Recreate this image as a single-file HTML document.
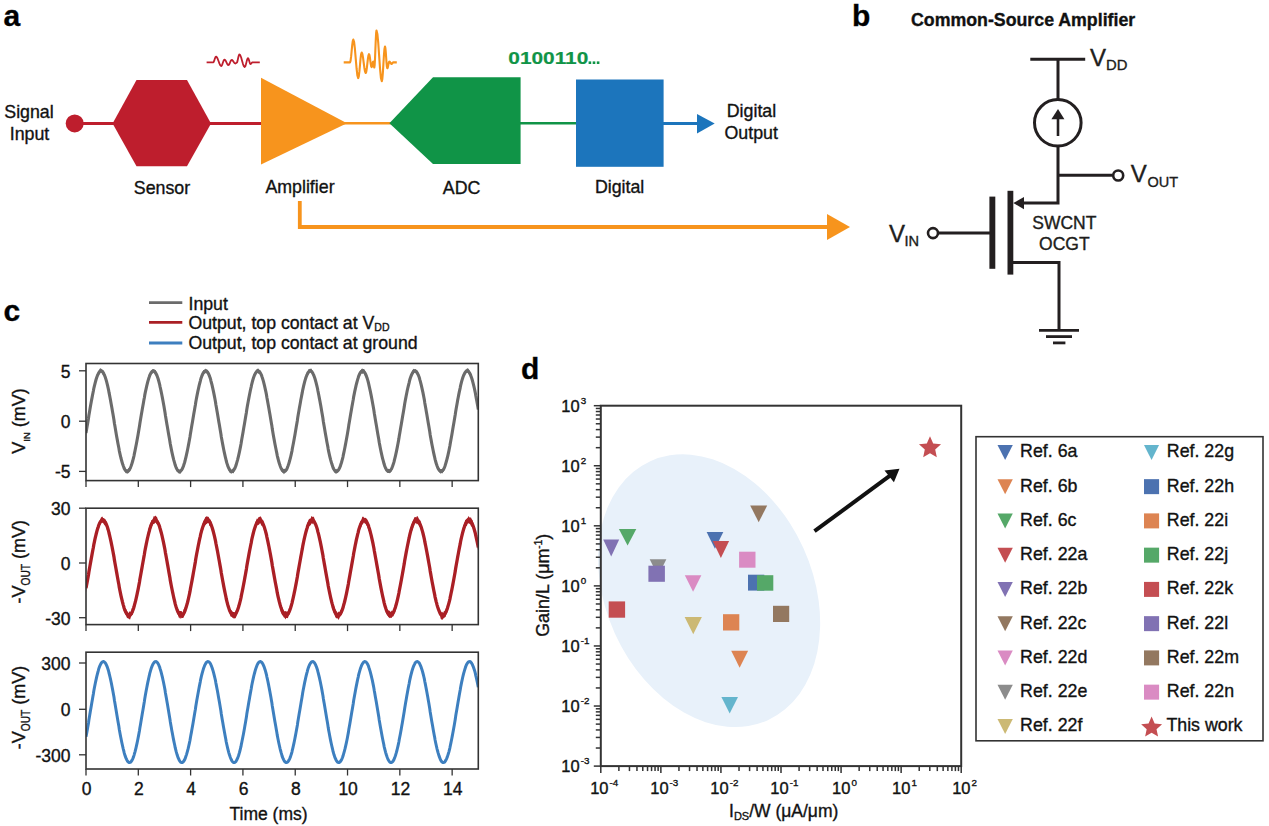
<!DOCTYPE html>
<html><head><meta charset="utf-8"><style>
html,body{margin:0;padding:0;background:#fff;}
svg{display:block;font-family:"Liberation Sans", sans-serif;}
text{stroke:#151515;stroke-width:0.35px;}
text.nostroke{stroke:none;}
</style></head><body>
<svg width="1269" height="826" viewBox="0 0 1269 826">
<rect width="1269" height="826" fill="#fff"/>
<text x="3.50" y="26.00" font-size="30" text-anchor="start" font-weight="bold" fill="#000" >a</text>
<text x="852.00" y="26.00" font-size="30" text-anchor="start" font-weight="bold" fill="#000" >b</text>
<text x="3.50" y="320.80" font-size="30" text-anchor="start" font-weight="bold" fill="#000" >c</text>
<text x="521.00" y="378.60" font-size="30" text-anchor="start" font-weight="bold" fill="#000" >d</text>
<text x="29.00" y="118.10" font-size="17.8" text-anchor="middle" font-weight="normal" fill="#111" >Signal</text>
<text x="29.50" y="139.60" font-size="17.8" text-anchor="middle" font-weight="normal" fill="#111" >Input</text>
<line x1="80" y1="123.4" x2="120" y2="123.4" stroke="#be1e2d" stroke-width="3"/>
<circle cx="74.7" cy="123.4" r="9" fill="#be1e2d"/>
<polygon points="112.60,123.50 136.50,80.00 187.00,80.00 211.00,123.50 187.00,166.30 136.50,166.30" fill="#be1e2d"/>
<line x1="205" y1="123.4" x2="265" y2="123.4" stroke="#be1e2d" stroke-width="3"/>
<polygon points="261.00,77.80 261.00,164.50 347.00,123.30" fill="#f7941d"/>
<line x1="340" y1="123.3" x2="395" y2="123.3" stroke="#f7941d" stroke-width="2.6"/>
<polygon points="389.40,123.30 433.00,77.20 520.60,77.20 520.60,164.00 433.00,164.00" fill="#109447"/>
<line x1="515" y1="123.3" x2="580" y2="123.3" stroke="#109447" stroke-width="2.6"/>
<rect x="576" y="79.5" width="87.6" height="87.3" fill="#1c75bc"/>
<line x1="660" y1="123.5" x2="700" y2="123.5" stroke="#1c75bc" stroke-width="3"/>
<polygon points="697.00,113.90 714.70,123.50 697.00,133.40" fill="#1c75bc"/>
<text x="162.00" y="193.60" font-size="17.8" text-anchor="middle" font-weight="normal" fill="#111" >Sensor</text>
<text x="300.00" y="193.00" font-size="17.8" text-anchor="middle" font-weight="normal" fill="#111" >Amplifier</text>
<text x="461.60" y="193.70" font-size="17.8" text-anchor="middle" font-weight="normal" fill="#111" >ADC</text>
<text x="619.60" y="192.90" font-size="17.8" text-anchor="middle" font-weight="normal" fill="#111" >Digital</text>
<text x="751.50" y="117.30" font-size="17.8" text-anchor="middle" font-weight="normal" fill="#111" >Digital</text>
<text x="751.20" y="139.00" font-size="17.8" text-anchor="middle" font-weight="normal" fill="#111" >Output</text>
<text x="508.3" y="63.6" font-size="17.2" font-weight="bold" fill="#109447" style="stroke:#109447;stroke-width:0.2px" textLength="80" lengthAdjust="spacingAndGlyphs">0100110</text>
<rect x="588.60" y="61.4" width="2.6" height="2.6" fill="#109447"/>
<rect x="592.70" y="61.4" width="2.6" height="2.6" fill="#109447"/>
<rect x="596.80" y="61.4" width="2.6" height="2.6" fill="#109447"/>
<polyline points="299.80,200.90 299.80,227.00 830.00,227.00" fill="none" stroke="#f7941d" stroke-width="3.8"/>
<polygon points="827.00,213.90 850.00,226.90 827.00,240.00" fill="#f7941d"/>
<path d="M206.60,62.40 L207.70,62.40 L208.80,62.40 L209.90,62.40 L211.00,62.40 L212.10,62.40 L213.20,62.40 L213.67,62.01 L214.13,60.95 L214.60,59.50 L215.07,58.05 L215.53,56.99 L216.00,56.60 L216.87,57.23 L217.73,58.95 L218.60,61.30 L219.47,63.65 L220.33,65.37 L221.20,66.00 L221.75,65.57 L222.30,64.40 L222.85,62.80 L223.40,61.20 L223.95,60.03 L224.50,59.60 L225.15,59.97 L225.80,60.98 L226.45,62.35 L227.10,63.72 L227.75,64.73 L228.40,65.10 L228.95,64.75 L229.50,63.80 L230.05,62.50 L230.60,61.20 L231.15,60.25 L231.70,59.90 L232.30,60.14 L232.90,60.80 L233.50,61.70 L234.10,62.60 L234.70,63.26 L235.30,63.50 L235.53,63.45 L235.77,63.30 L236.00,63.10 L236.23,62.90 L236.47,62.75 L236.70,62.70 L237.15,62.14 L237.60,60.62 L238.05,58.55 L238.50,56.48 L238.95,54.96 L239.40,54.40 L240.28,55.24 L241.17,57.55 L242.05,60.70 L242.93,63.85 L243.82,66.16 L244.70,67.00 L245.25,66.41 L245.80,64.80 L246.35,62.60 L246.90,60.40 L247.45,58.79 L248.00,58.20 L248.42,58.59 L248.83,59.65 L249.25,61.10 L249.67,62.55 L250.08,63.61 L250.50,64.00 L250.82,63.89 L251.13,63.60 L251.45,63.20 L251.77,62.80 L252.08,62.51 L252.40,62.40 L253.63,62.40 L254.87,62.40 L256.10,62.40 L257.33,62.40 L258.57,62.40 L259.80,62.40" fill="none" stroke="#be1e2d" stroke-width="1.8" stroke-linejoin="round"/>
<path d="M343.70,62.40 L344.75,62.40 L345.80,62.40 L346.85,62.40 L347.90,62.40 L348.95,62.40 L350.00,62.40 L350.55,60.87 L351.10,56.70 L351.65,51.00 L352.20,45.30 L352.75,41.13 L353.30,39.60 L354.12,42.18 L354.93,49.22 L355.75,58.85 L356.57,68.47 L357.38,75.52 L358.20,78.10 L358.78,76.39 L359.37,71.70 L359.95,65.30 L360.53,58.90 L361.12,54.21 L361.70,52.50 L362.37,53.87 L363.03,57.62 L363.70,62.75 L364.37,67.88 L365.03,71.63 L365.70,73.00 L366.25,71.73 L366.80,68.28 L367.35,63.55 L367.90,58.83 L368.45,55.37 L369.00,54.10 L369.43,54.97 L369.87,57.35 L370.30,60.60 L370.73,63.85 L371.17,66.23 L371.60,67.10 L371.87,66.73 L372.13,65.72 L372.40,64.35 L372.67,62.98 L372.93,61.97 L373.20,61.60 L373.38,62.00 L373.57,63.08 L373.75,64.55 L373.93,66.03 L374.12,67.10 L374.30,67.50 L374.67,65.02 L375.03,58.25 L375.40,49.00 L375.77,39.75 L376.13,32.98 L376.50,30.50 L377.38,33.90 L378.27,43.20 L379.15,55.90 L380.03,68.60 L380.92,77.90 L381.80,81.30 L382.33,78.98 L382.87,72.62 L383.40,63.95 L383.93,55.28 L384.47,48.92 L385.00,46.60 L385.38,48.05 L385.77,52.02 L386.15,57.45 L386.53,62.88 L386.92,66.85 L387.30,68.30 L387.63,67.85 L387.97,66.62 L388.30,64.95 L388.63,63.27 L388.97,62.05 L389.30,61.60 L389.68,61.76 L390.07,62.20 L390.45,62.80 L390.83,63.40 L391.22,63.84 L391.60,64.00 L391.87,63.89 L392.13,63.60 L392.40,63.20 L392.67,62.80 L392.93,62.51 L393.20,62.40 L393.80,62.40 L394.40,62.40 L395.00,62.40 L395.60,62.40 L396.20,62.40 L396.80,62.40" fill="none" stroke="#f7941d" stroke-width="2.1" stroke-linejoin="round"/>
<text x="911.00" y="26.00" font-size="17.75" text-anchor="start" font-weight="bold" fill="#111" >Common-Source Amplifier</text>
<line x1="1030.3" y1="59.3" x2="1085.2" y2="59.3" stroke="#231f20" stroke-width="3" fill="none"/>
<line x1="1058" y1="59.3" x2="1058" y2="99.5" stroke="#231f20" stroke-width="3" fill="none"/>
<circle cx="1057.8" cy="122.8" r="23.3" stroke="#231f20" stroke-width="3" fill="none"/>
<line x1="1058" y1="136" x2="1058" y2="117" stroke="#231f20" stroke-width="2.6"/>
<polygon points="1051.40,119.30 1058.00,109.00 1064.40,119.30" fill="#231f20"/>
<polyline points="1058.00,146.00 1058.00,203.00 1021.00,203.00" stroke="#231f20" stroke-width="3" fill="none"/>
<line x1="1058" y1="175.3" x2="1112.5" y2="175.3" stroke="#231f20" stroke-width="3" fill="none"/>
<circle cx="1118.2" cy="175.5" r="5" stroke="#231f20" stroke-width="2.6" fill="none"/>
<polygon points="1013.30,203.00 1024.00,197.10 1024.00,209.30" fill="#231f20"/>
<rect x="1007.5" y="190.8" width="5.8" height="83.8" fill="#231f20"/>
<rect x="989.4" y="196.6" width="5.9" height="72.2" fill="#231f20"/>
<line x1="938.5" y1="233" x2="990" y2="233" stroke="#231f20" stroke-width="3" fill="none"/>
<circle cx="933" cy="233.1" r="5" stroke="#231f20" stroke-width="2.6" fill="none"/>
<polyline points="1012.00,262.60 1059.00,262.60 1059.00,330.30" stroke="#231f20" stroke-width="3" fill="none"/>
<line x1="1039" y1="330.3" x2="1079" y2="330.3" stroke="#231f20" stroke-width="2.8"/>
<line x1="1046" y1="336.6" x2="1072" y2="336.6" stroke="#231f20" stroke-width="2.8"/>
<line x1="1053" y1="342.9" x2="1065.4" y2="342.9" stroke="#231f20" stroke-width="2.8"/>
<text x="1090.00" y="66.10" font-size="24" text-anchor="start" font-weight="normal" fill="#231f20" >V</text>
<text x="1106.00" y="69.80" font-size="14.8" text-anchor="start" font-weight="normal" fill="#231f20" >DD</text>
<text x="1130.80" y="181.60" font-size="24" text-anchor="start" font-weight="normal" fill="#231f20" >V</text>
<text x="1147.50" y="186.50" font-size="14.5" text-anchor="start" font-weight="normal" fill="#231f20" >OUT</text>
<text x="889.00" y="241.50" font-size="24" text-anchor="start" font-weight="normal" fill="#231f20" >V</text>
<text x="904.50" y="245.80" font-size="14.6" text-anchor="start" font-weight="normal" fill="#231f20" >IN</text>
<text x="1064.30" y="229.10" font-size="17.5" text-anchor="middle" font-weight="normal" fill="#231f20" >SWCNT</text>
<text x="1064.40" y="250.00" font-size="17.5" text-anchor="middle" font-weight="normal" fill="#231f20" >OCGT</text>
<line x1="149" y1="302.6" x2="182.3" y2="302.6" stroke="#6b6b6b" stroke-width="2.8"/>
<line x1="149" y1="322.4" x2="182.3" y2="322.4" stroke="#aa1f25" stroke-width="2.8"/>
<line x1="149" y1="343" x2="182.3" y2="343" stroke="#3d7fbf" stroke-width="2.8"/>
<text x="188.50" y="310.10" font-size="17.7" text-anchor="start" font-weight="normal" fill="#111" >Input</text>
<text x="188.50" y="329.30" font-size="17.7" text-anchor="start" font-weight="normal" fill="#111" >Output, top contact at V<tspan font-size="10.5" dy="2">DD</tspan></text>
<text x="188.50" y="349.00" font-size="17.7" text-anchor="start" font-weight="normal" fill="#111" >Output, top contact at ground</text>
<clipPath id="cp0"><rect x="86" y="363.5" width="392.3" height="117.10000000000002"/></clipPath>
<g clip-path="url(#cp0)"><path d="M86.0,431.4 L86.8,425.5 L87.6,421.8 L88.5,416.6 L89.3,410.4 L90.1,406.7 L90.9,402.2 L91.7,397.2 L92.5,392.4 L93.4,388.0 L94.2,385.7 L95.0,381.3 L95.8,378.8 L96.6,376.0 L97.4,374.2 L98.3,372.3 L99.1,369.7 L99.9,368.5 L100.7,368.2 L101.5,369.1 L102.3,369.7 L103.2,370.1 L104.0,372.6 L104.8,373.3 L105.6,375.8 L106.4,378.4 L107.2,382.8 L108.1,386.3 L108.9,390.3 L109.7,392.9 L110.5,398.3 L111.3,402.9 L112.2,407.8 L113.0,412.2 L113.8,416.6 L114.6,422.4 L115.4,426.6 L116.2,432.0 L117.1,437.1 L117.9,440.8 L118.7,444.7 L119.5,448.8 L120.3,452.5 L121.1,456.9 L122.0,459.1 L122.8,462.0 L123.6,465.4 L124.4,466.1 L125.2,467.3 L126.0,469.5 L126.9,469.4 L127.7,469.3 L128.5,468.0 L129.3,468.0 L130.1,466.3 L131.0,463.8 L131.8,461.5 L132.6,459.2 L133.4,456.7 L134.2,452.9 L135.0,448.3 L135.9,444.3 L136.7,440.7 L137.5,435.6 L138.3,430.1 L139.1,426.5 L139.9,420.3 L140.8,415.7 L141.6,410.7 L142.4,406.2 L143.2,402.4 L144.0,397.6 L144.8,393.4 L145.7,389.5 L146.5,384.5 L147.3,381.8 L148.1,378.2 L148.9,376.2 L149.7,373.7 L150.6,372.3 L151.4,370.8 L152.2,369.4 L153.0,369.0 L153.8,369.6 L154.7,369.8 L155.5,370.1 L156.3,371.3 L157.1,374.4 L157.9,375.7 L158.7,379.5 L159.6,381.5 L160.4,385.8 L161.2,388.7 L162.0,392.9 L162.8,398.2 L163.6,401.9 L164.5,406.8 L165.3,411.6 L166.1,417.1 L166.9,421.4 L167.7,427.1 L168.5,432.1 L169.4,436.2 L170.2,441.3 L171.0,445.9 L171.8,449.2 L172.6,453.0 L173.5,456.9 L174.3,459.3 L175.1,462.4 L175.9,464.7 L176.7,466.5 L177.5,467.4 L178.4,469.5 L179.2,469.6 L180.0,470.0 L180.8,469.1 L181.6,468.0 L182.4,467.0 L183.3,464.1 L184.1,462.2 L184.9,459.2 L185.7,456.6 L186.5,453.1 L187.3,448.8 L188.2,443.8 L189.0,439.9 L189.8,434.8 L190.6,431.1 L191.4,426.2 L192.2,421.3 L193.1,416.2 L193.9,410.8 L194.7,406.1 L195.5,402.2 L196.3,397.4 L197.2,393.4 L198.0,389.3 L198.8,384.9 L199.6,381.6 L200.4,378.5 L201.2,374.9 L202.1,374.1 L202.9,370.9 L203.7,370.0 L204.5,369.9 L205.3,368.6 L206.1,369.4 L207.0,369.2 L207.8,370.8 L208.6,371.3 L209.4,373.4 L210.2,375.5 L211.0,379.3 L211.9,382.9 L212.7,385.9 L213.5,390.3 L214.3,393.3 L215.1,397.5 L215.9,402.9 L216.8,407.2 L217.6,413.0 L218.4,417.7 L219.2,421.9 L220.0,426.8 L220.9,432.6 L221.7,436.8 L222.5,441.0 L223.3,445.4 L224.1,450.2 L224.9,453.7 L225.8,456.5 L226.6,460.3 L227.4,462.1 L228.2,465.2 L229.0,467.0 L229.8,467.3 L230.7,469.5 L231.5,469.8 L232.3,469.0 L233.1,468.2 L233.9,467.6 L234.7,466.0 L235.6,463.7 L236.4,462.1 L237.2,459.0 L238.0,455.3 L238.8,452.8 L239.7,449.4 L240.5,444.6 L241.3,440.1 L242.1,435.7 L242.9,430.7 L243.7,426.5 L244.6,420.7 L245.4,416.9 L246.2,410.4 L247.0,406.9 L247.8,401.9 L248.6,397.8 L249.5,393.0 L250.3,388.1 L251.1,384.9 L251.9,381.3 L252.7,378.6 L253.5,375.3 L254.4,373.3 L255.2,372.0 L256.0,370.4 L256.8,369.0 L257.6,368.7 L258.4,368.5 L259.3,369.9 L260.1,370.0 L260.9,372.6 L261.7,373.8 L262.5,375.7 L263.4,378.7 L264.2,382.6 L265.0,385.8 L265.8,389.6 L266.6,394.4 L267.4,397.9 L268.3,402.7 L269.1,408.0 L269.9,412.4 L270.7,417.2 L271.5,421.6 L272.3,426.2 L273.2,431.0 L274.0,436.3 L274.8,440.9 L275.6,446.1 L276.4,449.7 L277.2,454.0 L278.1,456.2 L278.9,460.0 L279.7,461.9 L280.5,465.0 L281.3,466.7 L282.1,468.1 L283.0,468.7 L283.8,468.9 L284.6,468.8 L285.4,469.2 L286.2,468.5 L287.1,466.1 L287.9,464.6 L288.7,462.5 L289.5,459.7 L290.3,456.7 L291.1,452.9 L292.0,447.9 L292.8,444.3 L293.6,440.9 L294.4,436.0 L295.2,431.3 L296.0,425.4 L296.9,420.3 L297.7,416.8 L298.5,410.7 L299.3,406.4 L300.1,401.9 L300.9,396.7 L301.8,392.7 L302.6,388.0 L303.4,385.2 L304.2,380.8 L305.0,378.8 L305.9,375.9 L306.7,372.7 L307.5,372.2 L308.3,369.4 L309.1,368.7 L309.9,369.2 L310.8,368.4 L311.6,368.7 L312.4,370.8 L313.2,372.5 L314.0,373.4 L314.8,376.8 L315.7,378.6 L316.5,382.1 L317.3,386.0 L318.1,389.6 L318.9,393.7 L319.7,397.9 L320.6,403.2 L321.4,407.5 L322.2,412.0 L323.0,417.5 L323.8,422.8 L324.6,426.4 L325.5,431.3 L326.3,437.3 L327.1,440.6 L327.9,445.6 L328.7,450.0 L329.6,453.9 L330.4,455.9 L331.2,459.5 L332.0,463.1 L332.8,465.2 L333.6,466.9 L334.5,468.7 L335.3,469.4 L336.1,468.8 L336.9,469.6 L337.7,469.1 L338.5,468.3 L339.4,465.5 L340.2,464.8 L341.0,461.6 L341.8,458.9 L342.6,456.0 L343.4,453.2 L344.3,448.4 L345.1,444.5 L345.9,440.1 L346.7,436.3 L347.5,431.3 L348.4,425.6 L349.2,420.8 L350.0,416.5 L350.8,411.1 L351.6,406.1 L352.4,401.8 L353.3,396.6 L354.1,393.1 L354.9,388.3 L355.7,385.5 L356.5,381.7 L357.3,377.7 L358.2,375.6 L359.0,373.6 L359.8,371.6 L360.6,370.5 L361.4,369.0 L362.2,368.5 L363.1,369.0 L363.9,368.9 L364.7,369.7 L365.5,372.2 L366.3,374.4 L367.1,376.8 L368.0,379.2 L368.8,381.7 L369.6,386.4 L370.4,389.2 L371.2,394.0 L372.1,397.4 L372.9,403.2 L373.7,408.1 L374.5,412.5 L375.3,416.6 L376.1,421.7 L377.0,427.2 L377.8,432.0 L378.6,437.2 L379.4,441.3 L380.2,445.1 L381.0,449.4 L381.9,453.1 L382.7,456.4 L383.5,459.8 L384.3,463.1 L385.1,465.1 L385.9,466.7 L386.8,468.1 L387.6,469.4 L388.4,468.7 L389.2,469.0 L390.0,469.5 L390.8,468.4 L391.7,466.4 L392.5,464.1 L393.3,461.5 L394.1,459.6 L394.9,455.8 L395.8,451.7 L396.6,448.9 L397.4,443.8 L398.2,440.3 L399.0,435.5 L399.8,431.6 L400.7,426.3 L401.5,420.9 L402.3,415.9 L403.1,411.8 L403.9,406.7 L404.7,401.5 L405.6,396.7 L406.4,393.5 L407.2,388.2 L408.0,385.5 L408.8,381.0 L409.6,379.0 L410.5,375.5 L411.3,373.2 L412.1,370.8 L412.9,369.4 L413.7,368.8 L414.6,369.5 L415.4,369.1 L416.2,369.7 L417.0,370.2 L417.8,371.3 L418.6,373.7 L419.5,376.1 L420.3,378.4 L421.1,382.2 L421.9,385.8 L422.7,389.8 L423.5,393.2 L424.4,397.3 L425.2,402.6 L426.0,406.6 L426.8,411.8 L427.6,417.3 L428.4,421.8 L429.3,426.7 L430.1,431.9 L430.9,437.2 L431.7,441.0 L432.5,445.4 L433.3,448.8 L434.2,453.6 L435.0,456.8 L435.8,460.1 L436.6,462.5 L437.4,465.0 L438.3,466.1 L439.1,467.6 L439.9,468.7 L440.7,469.2 L441.5,468.9 L442.3,468.9 L443.2,468.3 L444.0,466.3 L444.8,464.2 L445.6,462.6 L446.4,459.9 L447.2,456.3 L448.1,452.3 L448.9,448.1 L449.7,444.0 L450.5,440.9 L451.3,436.4 L452.1,430.2 L453.0,426.1 L453.8,421.1 L454.6,416.3 L455.4,411.2 L456.2,406.2 L457.1,402.1 L457.9,397.6 L458.7,393.0 L459.5,388.0 L460.3,385.2 L461.1,382.1 L462.0,378.6 L462.8,375.3 L463.6,372.7 L464.4,372.3 L465.2,369.8 L466.0,369.8 L466.9,368.5 L467.7,368.2 L468.5,368.8 L469.3,369.9 L470.1,372.6 L470.9,374.6 L471.8,375.9 L472.6,379.0 L473.4,382.3 L474.2,385.6 L475.0,390.1 L475.8,393.9 L476.7,397.4 L477.5,402.0 L478.3,407.3 L478.3,410.8 L477.5,406.9 L476.7,401.9 L475.8,398.7 L475.0,393.0 L474.2,389.3 L473.4,385.7 L472.6,383.0 L471.8,381.0 L470.9,378.1 L470.1,376.4 L469.3,375.0 L468.5,374.1 L467.7,372.4 L466.9,372.8 L466.0,372.9 L465.2,374.8 L464.4,375.1 L463.6,377.2 L462.8,379.4 L462.0,382.4 L461.1,385.4 L460.3,388.4 L459.5,392.5 L458.7,396.4 L457.9,400.7 L457.1,405.5 L456.2,411.2 L455.4,415.6 L454.6,419.8 L453.8,425.3 L453.0,430.2 L452.1,434.4 L451.3,439.2 L450.5,444.9 L449.7,448.4 L448.9,452.1 L448.1,457.1 L447.2,459.8 L446.4,463.2 L445.6,466.2 L444.8,469.3 L444.0,471.2 L443.2,472.1 L442.3,473.6 L441.5,473.0 L440.7,473.7 L439.9,473.0 L439.1,471.8 L438.3,470.2 L437.4,469.6 L436.6,466.6 L435.8,463.5 L435.0,460.6 L434.2,457.1 L433.3,454.2 L432.5,448.8 L431.7,445.2 L430.9,440.3 L430.1,435.9 L429.3,431.1 L428.4,426.6 L427.6,421.0 L426.8,415.9 L426.0,410.9 L425.2,407.5 L424.4,401.5 L423.5,397.5 L422.7,393.2 L421.9,389.5 L421.1,387.0 L420.3,383.0 L419.5,380.9 L418.6,377.3 L417.8,375.9 L417.0,374.4 L416.2,374.2 L415.4,372.6 L414.6,372.3 L413.7,373.7 L412.9,373.6 L412.1,376.5 L411.3,377.3 L410.5,379.5 L409.6,382.0 L408.8,385.9 L408.0,389.6 L407.2,393.7 L406.4,396.4 L405.6,401.6 L404.7,406.2 L403.9,410.0 L403.1,416.1 L402.3,420.9 L401.5,424.6 L400.7,430.4 L399.8,435.7 L399.0,439.3 L398.2,443.8 L397.4,448.0 L396.6,453.4 L395.8,456.4 L394.9,460.5 L394.1,463.6 L393.3,466.0 L392.5,469.2 L391.7,471.1 L390.8,472.3 L390.0,473.0 L389.2,473.3 L388.4,472.8 L387.6,472.8 L386.8,472.3 L385.9,470.4 L385.1,469.7 L384.3,467.3 L383.5,464.7 L382.7,460.4 L381.9,456.9 L381.0,453.8 L380.2,449.8 L379.4,445.6 L378.6,441.0 L377.8,436.6 L377.0,430.6 L376.1,427.0 L375.3,421.3 L374.5,415.8 L373.7,411.2 L372.9,406.2 L372.1,401.7 L371.2,397.7 L370.4,393.3 L369.6,389.1 L368.8,386.8 L368.0,383.7 L367.1,380.5 L366.3,378.5 L365.5,376.4 L364.7,375.2 L363.9,373.0 L363.1,373.8 L362.2,373.8 L361.4,373.2 L360.6,374.9 L359.8,376.0 L359.0,377.5 L358.2,379.8 L357.3,382.7 L356.5,386.3 L355.7,389.5 L354.9,392.3 L354.1,397.0 L353.3,400.6 L352.4,405.7 L351.6,410.8 L350.8,414.9 L350.0,420.9 L349.2,425.5 L348.4,430.2 L347.5,435.2 L346.7,440.4 L345.9,444.7 L345.1,447.9 L344.3,452.6 L343.4,456.9 L342.6,459.6 L341.8,463.7 L341.0,466.7 L340.2,468.3 L339.4,470.2 L338.5,471.8 L337.7,472.6 L336.9,473.6 L336.1,473.5 L335.3,473.5 L334.5,472.7 L333.6,470.6 L332.8,469.6 L332.0,466.3 L331.2,464.5 L330.4,461.3 L329.6,456.7 L328.7,453.2 L327.9,449.9 L327.1,445.2 L326.3,440.8 L325.5,435.8 L324.6,431.8 L323.8,425.6 L323.0,420.9 L322.2,417.1 L321.4,411.0 L320.6,406.9 L319.7,402.7 L318.9,398.2 L318.1,393.9 L317.3,390.2 L316.5,386.0 L315.7,383.9 L314.8,381.1 L314.0,377.7 L313.2,376.5 L312.4,374.1 L311.6,373.4 L310.8,372.4 L309.9,372.3 L309.1,373.8 L308.3,374.8 L307.5,376.3 L306.7,377.5 L305.9,379.4 L305.0,383.4 L304.2,385.0 L303.4,389.4 L302.6,392.6 L301.8,397.4 L300.9,402.0 L300.1,406.1 L299.3,410.4 L298.5,415.5 L297.7,420.9 L296.9,425.9 L296.0,429.5 L295.2,434.3 L294.4,439.9 L293.6,443.8 L292.8,449.0 L292.0,452.1 L291.1,456.3 L290.3,459.8 L289.5,463.9 L288.7,465.7 L287.9,468.2 L287.1,471.1 L286.2,471.3 L285.4,472.2 L284.6,473.4 L283.8,474.3 L283.0,472.7 L282.1,472.3 L281.3,470.9 L280.5,468.2 L279.7,467.1 L278.9,464.6 L278.1,460.8 L277.2,457.6 L276.4,454.0 L275.6,449.0 L274.8,445.5 L274.0,440.0 L273.2,436.6 L272.3,431.8 L271.5,426.5 L270.7,421.4 L269.9,415.7 L269.1,411.8 L268.3,407.2 L267.4,401.6 L266.6,397.3 L265.8,394.0 L265.0,390.3 L264.2,385.6 L263.4,382.6 L262.5,380.9 L261.7,378.7 L260.9,376.2 L260.1,375.0 L259.3,373.1 L258.4,373.9 L257.6,372.9 L256.8,373.0 L256.0,374.5 L255.2,375.3 L254.4,377.8 L253.5,379.4 L252.7,382.3 L251.9,385.3 L251.1,388.6 L250.3,392.5 L249.5,397.7 L248.6,401.2 L247.8,406.1 L247.0,410.8 L246.2,415.2 L245.4,419.9 L244.6,425.0 L243.7,430.3 L242.9,435.4 L242.1,439.7 L241.3,444.5 L240.5,449.5 L239.7,453.1 L238.8,457.1 L238.0,459.5 L237.2,463.7 L236.4,465.5 L235.6,468.6 L234.7,469.7 L233.9,472.7 L233.1,473.6 L232.3,472.8 L231.5,473.8 L230.7,473.2 L229.8,472.9 L229.0,471.4 L228.2,468.5 L227.4,466.1 L226.6,463.3 L225.8,461.3 L224.9,457.0 L224.1,453.7 L223.3,449.0 L222.5,445.8 L221.7,440.9 L220.9,436.3 L220.0,431.4 L219.2,426.0 L218.4,421.6 L217.6,416.2 L216.8,411.4 L215.9,407.0 L215.1,402.2 L214.3,398.4 L213.5,393.1 L212.7,390.1 L211.9,386.8 L211.0,383.9 L210.2,379.9 L209.4,377.3 L208.6,376.9 L207.8,374.0 L207.0,374.1 L206.1,372.5 L205.3,373.6 L204.5,373.6 L203.7,375.0 L202.9,375.7 L202.1,377.6 L201.2,380.3 L200.4,382.5 L199.6,385.0 L198.8,389.7 L198.0,392.5 L197.2,397.7 L196.3,401.8 L195.5,405.8 L194.7,411.4 L193.9,415.2 L193.1,420.9 L192.2,424.9 L191.4,429.6 L190.6,435.1 L189.8,439.4 L189.0,444.4 L188.2,448.2 L187.3,452.1 L186.5,457.5 L185.7,460.0 L184.9,463.4 L184.1,466.7 L183.3,469.2 L182.4,470.4 L181.6,471.4 L180.8,473.8 L180.0,473.5 L179.2,473.7 L178.4,473.3 L177.5,471.8 L176.7,471.4 L175.9,468.6 L175.1,466.5 L174.3,464.2 L173.5,461.6 L172.6,456.7 L171.8,454.4 L171.0,449.7 L170.2,444.7 L169.4,440.8 L168.5,436.3 L167.7,430.6 L166.9,427.0 L166.1,422.0 L165.3,415.8 L164.5,412.0 L163.6,406.2 L162.8,402.6 L162.0,398.2 L161.2,393.4 L160.4,389.3 L159.6,387.0 L158.7,383.4 L157.9,381.1 L157.1,377.7 L156.3,376.6 L155.5,375.1 L154.7,374.2 L153.8,372.4 L153.0,373.4 L152.2,373.4 L151.4,374.4 L150.6,376.5 L149.7,377.4 L148.9,379.7 L148.1,382.5 L147.3,385.6 L146.5,388.5 L145.7,393.0 L144.8,397.7 L144.0,402.0 L143.2,406.6 L142.4,411.0 L141.6,416.1 L140.8,419.8 L139.9,424.6 L139.1,429.8 L138.3,435.2 L137.5,439.1 L136.7,444.7 L135.9,448.2 L135.0,453.4 L134.2,456.9 L133.4,460.8 L132.6,464.1 L131.8,466.2 L131.0,469.0 L130.1,470.9 L129.3,471.2 L128.5,472.9 L127.7,473.8 L126.9,473.3 L126.0,473.5 L125.2,472.3 L124.4,470.4 L123.6,468.7 L122.8,466.6 L122.0,463.4 L121.1,460.9 L120.3,457.6 L119.5,453.4 L118.7,450.3 L117.9,445.2 L117.1,440.3 L116.2,435.7 L115.4,431.4 L114.6,426.9 L113.8,421.0 L113.0,417.0 L112.2,410.8 L111.3,406.5 L110.5,401.8 L109.7,397.2 L108.9,393.0 L108.1,390.5 L107.2,387.0 L106.4,383.3 L105.6,380.9 L104.8,378.2 L104.0,375.6 L103.2,375.2 L102.3,374.2 L101.5,372.8 L100.7,372.3 L99.9,374.1 L99.1,374.4 L98.3,375.0 L97.4,377.4 L96.6,379.2 L95.8,383.2 L95.0,385.6 L94.2,389.7 L93.4,392.2 L92.5,397.1 L91.7,400.6 L90.9,406.0 L90.1,410.7 L89.3,416.0 L88.5,419.9 L87.6,425.3 L86.8,430.1 L86.0,435.6Z" fill="#6b6b6b"/><path d="M86.0,432.9 L86.5,430.0 L87.0,427.1 L87.5,424.2 L88.0,421.2 L88.5,418.2 L88.9,415.3 L89.4,412.4 L89.9,409.5 L90.4,406.6 L90.9,403.8 L91.4,401.0 L91.9,398.4 L92.4,395.8 L92.9,393.3 L93.4,390.8 L93.8,388.5 L94.3,386.3 L94.8,384.3 L95.3,382.3 L95.8,380.5 L96.3,378.8 L96.8,377.3 L97.3,375.9 L97.8,374.7 L98.3,373.7 L98.7,372.8 L99.2,372.1 L99.7,371.5 L100.2,371.1 L100.7,370.9 L101.2,370.9 L101.7,371.1 L102.2,371.4 L102.7,371.9 L103.2,372.5 L103.7,373.4 L104.1,374.4 L104.6,375.5 L105.1,376.8 L105.6,378.3 L106.1,379.9 L106.6,381.7 L107.1,383.6 L107.6,385.6 L108.1,387.8 L108.6,390.1 L109.0,392.4 L109.5,394.9 L110.0,397.5 L110.5,400.1 L111.0,402.9 L111.5,405.7 L112.0,408.5 L112.5,411.4 L113.0,414.3 L113.5,417.3 L114.0,420.2 L114.4,423.2 L114.9,426.1 L115.4,429.1 L115.9,432.0 L116.4,434.9 L116.9,437.7 L117.4,440.4 L117.9,443.2 L118.4,445.8 L118.9,448.3 L119.3,450.8 L119.8,453.1 L120.3,455.3 L120.8,457.5 L121.3,459.4 L121.8,461.3 L122.3,463.0 L122.8,464.6 L123.3,466.0 L123.8,467.3 L124.2,468.4 L124.7,469.3 L125.2,470.1 L125.7,470.7 L126.2,471.2 L126.7,471.4 L127.2,471.5 L127.7,471.4 L128.2,471.2 L128.7,470.7 L129.2,470.1 L129.6,469.3 L130.1,468.4 L130.6,467.3 L131.1,466.0 L131.6,464.6 L132.1,463.0 L132.6,461.3 L133.1,459.4 L133.6,457.5 L134.1,455.3 L134.5,453.1 L135.0,450.8 L135.5,448.3 L136.0,445.8 L136.5,443.2 L137.0,440.4 L137.5,437.7 L138.0,434.9 L138.5,432.0 L139.0,429.1 L139.5,426.1 L139.9,423.2 L140.4,420.2 L140.9,417.3 L141.4,414.3 L141.9,411.4 L142.4,408.5 L142.9,405.7 L143.4,402.9 L143.9,400.1 L144.4,397.5 L144.8,394.9 L145.3,392.4 L145.8,390.1 L146.3,387.8 L146.8,385.6 L147.3,383.6 L147.8,381.7 L148.3,379.9 L148.8,378.3 L149.3,376.8 L149.7,375.5 L150.2,374.4 L150.7,373.4 L151.2,372.5 L151.7,371.9 L152.2,371.4 L152.7,371.1 L153.2,370.9 L153.7,370.9 L154.2,371.1 L154.7,371.5 L155.1,372.1 L155.6,372.8 L156.1,373.7 L156.6,374.7 L157.1,375.9 L157.6,377.3 L158.1,378.8 L158.6,380.5 L159.1,382.3 L159.6,384.3 L160.0,386.3 L160.5,388.5 L161.0,390.8 L161.5,393.3 L162.0,395.8 L162.5,398.4 L163.0,401.0 L163.5,403.8 L164.0,406.6 L164.5,409.5 L165.0,412.4 L165.4,415.3 L165.9,418.2 L166.4,421.2 L166.9,424.2 L167.4,427.1 L167.9,430.0 L168.4,432.9 L168.9,435.8 L169.4,438.6 L169.9,441.4 L170.3,444.0 L170.8,446.6 L171.3,449.1 L171.8,451.6 L172.3,453.9 L172.8,456.1 L173.3,458.1 L173.8,460.1 L174.3,461.9 L174.8,463.6 L175.2,465.1 L175.7,466.5 L176.2,467.7 L176.7,468.7 L177.2,469.6 L177.7,470.3 L178.2,470.9 L178.7,471.3 L179.2,471.5 L179.7,471.5 L180.2,471.3 L180.6,471.0 L181.1,470.5 L181.6,469.9 L182.1,469.0 L182.6,468.0 L183.1,466.9 L183.6,465.6 L184.1,464.1 L184.6,462.5 L185.1,460.7 L185.5,458.8 L186.0,456.8 L186.5,454.6 L187.0,452.3 L187.5,450.0 L188.0,447.5 L188.5,444.9 L189.0,442.3 L189.5,439.5 L190.0,436.7 L190.4,433.9 L190.9,431.0 L191.4,428.1 L191.9,425.1 L192.4,422.2 L192.9,419.2 L193.4,416.3 L193.9,413.3 L194.4,410.4 L194.9,407.5 L195.4,404.7 L195.8,402.0 L196.3,399.2 L196.8,396.6 L197.3,394.1 L197.8,391.6 L198.3,389.3 L198.8,387.1 L199.3,384.9 L199.8,383.0 L200.3,381.1 L200.7,379.4 L201.2,377.8 L201.7,376.4 L202.2,375.1 L202.7,374.0 L203.2,373.1 L203.7,372.3 L204.2,371.7 L204.7,371.2 L205.2,371.0 L205.7,370.9 L206.1,371.0 L206.6,371.2 L207.1,371.7 L207.6,372.3 L208.1,373.1 L208.6,374.0 L209.1,375.1 L209.6,376.4 L210.1,377.8 L210.6,379.4 L211.0,381.1 L211.5,383.0 L212.0,384.9 L212.5,387.1 L213.0,389.3 L213.5,391.6 L214.0,394.1 L214.5,396.6 L215.0,399.2 L215.5,402.0 L215.9,404.7 L216.4,407.5 L216.9,410.4 L217.4,413.3 L217.9,416.3 L218.4,419.2 L218.9,422.2 L219.4,425.1 L219.9,428.1 L220.4,431.0 L220.9,433.9 L221.3,436.7 L221.8,439.5 L222.3,442.3 L222.8,444.9 L223.3,447.5 L223.8,450.0 L224.3,452.3 L224.8,454.6 L225.3,456.8 L225.8,458.8 L226.2,460.7 L226.7,462.5 L227.2,464.1 L227.7,465.6 L228.2,466.9 L228.7,468.0 L229.2,469.0 L229.7,469.9 L230.2,470.5 L230.7,471.0 L231.2,471.3 L231.6,471.5 L232.1,471.5 L232.6,471.3 L233.1,470.9 L233.6,470.3 L234.1,469.6 L234.6,468.7 L235.1,467.7 L235.6,466.5 L236.1,465.1 L236.5,463.6 L237.0,461.9 L237.5,460.1 L238.0,458.1 L238.5,456.1 L239.0,453.9 L239.5,451.6 L240.0,449.1 L240.5,446.6 L241.0,444.0 L241.4,441.4 L241.9,438.6 L242.4,435.8 L242.9,432.9 L243.4,430.0 L243.9,427.1 L244.4,424.2 L244.9,421.2 L245.4,418.2 L245.9,415.3 L246.4,412.4 L246.8,409.5 L247.3,406.6 L247.8,403.8 L248.3,401.0 L248.8,398.4 L249.3,395.8 L249.8,393.3 L250.3,390.8 L250.8,388.5 L251.3,386.3 L251.7,384.3 L252.2,382.3 L252.7,380.5 L253.2,378.8 L253.7,377.3 L254.2,375.9 L254.7,374.7 L255.2,373.7 L255.7,372.8 L256.2,372.1 L256.7,371.5 L257.1,371.1 L257.6,370.9 L258.1,370.9 L258.6,371.1 L259.1,371.4 L259.6,371.9 L260.1,372.5 L260.6,373.4 L261.1,374.4 L261.6,375.5 L262.0,376.8 L262.5,378.3 L263.0,379.9 L263.5,381.7 L264.0,383.6 L264.5,385.6 L265.0,387.8 L265.5,390.1 L266.0,392.4 L266.5,394.9 L266.9,397.5 L267.4,400.1 L267.9,402.9 L268.4,405.7 L268.9,408.5 L269.4,411.4 L269.9,414.3 L270.4,417.3 L270.9,420.2 L271.4,423.2 L271.9,426.1 L272.3,429.1 L272.8,432.0 L273.3,434.9 L273.8,437.7 L274.3,440.4 L274.8,443.2 L275.3,445.8 L275.8,448.3 L276.3,450.8 L276.8,453.1 L277.2,455.3 L277.7,457.5 L278.2,459.4 L278.7,461.3 L279.2,463.0 L279.7,464.6 L280.2,466.0 L280.7,467.3 L281.2,468.4 L281.7,469.3 L282.1,470.1 L282.6,470.7 L283.1,471.2 L283.6,471.4 L284.1,471.5 L284.6,471.4 L285.1,471.2 L285.6,470.7 L286.1,470.1 L286.6,469.3 L287.1,468.4 L287.5,467.3 L288.0,466.0 L288.5,464.6 L289.0,463.0 L289.5,461.3 L290.0,459.4 L290.5,457.5 L291.0,455.3 L291.5,453.1 L292.0,450.8 L292.4,448.3 L292.9,445.8 L293.4,443.2 L293.9,440.4 L294.4,437.7 L294.9,434.9 L295.4,432.0 L295.9,429.1 L296.4,426.1 L296.9,423.2 L297.4,420.2 L297.8,417.3 L298.3,414.3 L298.8,411.4 L299.3,408.5 L299.8,405.7 L300.3,402.9 L300.8,400.1 L301.3,397.5 L301.8,394.9 L302.3,392.4 L302.7,390.1 L303.2,387.8 L303.7,385.6 L304.2,383.6 L304.7,381.7 L305.2,379.9 L305.7,378.3 L306.2,376.8 L306.7,375.5 L307.2,374.4 L307.6,373.4 L308.1,372.5 L308.6,371.9 L309.1,371.4 L309.6,371.1 L310.1,370.9 L310.6,370.9 L311.1,371.1 L311.6,371.5 L312.1,372.1 L312.6,372.8 L313.0,373.7 L313.5,374.7 L314.0,375.9 L314.5,377.3 L315.0,378.8 L315.5,380.5 L316.0,382.3 L316.5,384.3 L317.0,386.3 L317.5,388.5 L317.9,390.8 L318.4,393.3 L318.9,395.8 L319.4,398.4 L319.9,401.0 L320.4,403.8 L320.9,406.6 L321.4,409.5 L321.9,412.4 L322.4,415.3 L322.9,418.2 L323.3,421.2 L323.8,424.2 L324.3,427.1 L324.8,430.0 L325.3,432.9 L325.8,435.8 L326.3,438.6 L326.8,441.4 L327.3,444.0 L327.8,446.6 L328.2,449.1 L328.7,451.6 L329.2,453.9 L329.7,456.1 L330.2,458.1 L330.7,460.1 L331.2,461.9 L331.7,463.6 L332.2,465.1 L332.7,466.5 L333.1,467.7 L333.6,468.7 L334.1,469.6 L334.6,470.3 L335.1,470.9 L335.6,471.3 L336.1,471.5 L336.6,471.5 L337.1,471.3 L337.6,471.0 L338.1,470.5 L338.5,469.9 L339.0,469.0 L339.5,468.0 L340.0,466.9 L340.5,465.6 L341.0,464.1 L341.5,462.5 L342.0,460.7 L342.5,458.8 L343.0,456.8 L343.4,454.6 L343.9,452.3 L344.4,450.0 L344.9,447.5 L345.4,444.9 L345.9,442.3 L346.4,439.5 L346.9,436.7 L347.4,433.9 L347.9,431.0 L348.4,428.1 L348.8,425.1 L349.3,422.2 L349.8,419.2 L350.3,416.3 L350.8,413.3 L351.3,410.4 L351.8,407.5 L352.3,404.7 L352.8,402.0 L353.3,399.2 L353.7,396.6 L354.2,394.1 L354.7,391.6 L355.2,389.3 L355.7,387.1 L356.2,384.9 L356.7,383.0 L357.2,381.1 L357.7,379.4 L358.2,377.8 L358.6,376.4 L359.1,375.1 L359.6,374.0 L360.1,373.1 L360.6,372.3 L361.1,371.7 L361.6,371.2 L362.1,371.0 L362.6,370.9 L363.1,371.0 L363.6,371.2 L364.0,371.7 L364.5,372.3 L365.0,373.1 L365.5,374.0 L366.0,375.1 L366.5,376.4 L367.0,377.8 L367.5,379.4 L368.0,381.1 L368.5,383.0 L368.9,384.9 L369.4,387.1 L369.9,389.3 L370.4,391.6 L370.9,394.1 L371.4,396.6 L371.9,399.2 L372.4,402.0 L372.9,404.7 L373.4,407.5 L373.9,410.4 L374.3,413.3 L374.8,416.3 L375.3,419.2 L375.8,422.2 L376.3,425.1 L376.8,428.1 L377.3,431.0 L377.8,433.9 L378.3,436.7 L378.8,439.5 L379.2,442.3 L379.7,444.9 L380.2,447.5 L380.7,450.0 L381.2,452.3 L381.7,454.6 L382.2,456.8 L382.7,458.8 L383.2,460.7 L383.7,462.5 L384.1,464.1 L384.6,465.6 L385.1,466.9 L385.6,468.0 L386.1,469.0 L386.6,469.9 L387.1,470.5 L387.6,471.0 L388.1,471.3 L388.6,471.5 L389.1,471.5 L389.5,471.3 L390.0,470.9 L390.5,470.3 L391.0,469.6 L391.5,468.7 L392.0,467.7 L392.5,466.5 L393.0,465.1 L393.5,463.6 L394.0,461.9 L394.4,460.1 L394.9,458.1 L395.4,456.1 L395.9,453.9 L396.4,451.6 L396.9,449.1 L397.4,446.6 L397.9,444.0 L398.4,441.4 L398.9,438.6 L399.3,435.8 L399.8,432.9 L400.3,430.0 L400.8,427.1 L401.3,424.2 L401.8,421.2 L402.3,418.2 L402.8,415.3 L403.3,412.4 L403.8,409.5 L404.3,406.6 L404.7,403.8 L405.2,401.0 L405.7,398.4 L406.2,395.8 L406.7,393.3 L407.2,390.8 L407.7,388.5 L408.2,386.3 L408.7,384.3 L409.2,382.3 L409.6,380.5 L410.1,378.8 L410.6,377.3 L411.1,375.9 L411.6,374.7 L412.1,373.7 L412.6,372.8 L413.1,372.1 L413.6,371.5 L414.1,371.1 L414.6,370.9 L415.0,370.9 L415.5,371.1 L416.0,371.4 L416.5,371.9 L417.0,372.5 L417.5,373.4 L418.0,374.4 L418.5,375.5 L419.0,376.8 L419.5,378.3 L419.9,379.9 L420.4,381.7 L420.9,383.6 L421.4,385.6 L421.9,387.8 L422.4,390.1 L422.9,392.4 L423.4,394.9 L423.9,397.5 L424.4,400.1 L424.8,402.9 L425.3,405.7 L425.8,408.5 L426.3,411.4 L426.8,414.3 L427.3,417.3 L427.8,420.2 L428.3,423.2 L428.8,426.1 L429.3,429.1 L429.8,432.0 L430.2,434.9 L430.7,437.7 L431.2,440.4 L431.7,443.2 L432.2,445.8 L432.7,448.3 L433.2,450.8 L433.7,453.1 L434.2,455.3 L434.7,457.5 L435.1,459.4 L435.6,461.3 L436.1,463.0 L436.6,464.6 L437.1,466.0 L437.6,467.3 L438.1,468.4 L438.6,469.3 L439.1,470.1 L439.6,470.7 L440.1,471.2 L440.5,471.4 L441.0,471.5 L441.5,471.4 L442.0,471.2 L442.5,470.7 L443.0,470.1 L443.5,469.3 L444.0,468.4 L444.5,467.3 L445.0,466.0 L445.4,464.6 L445.9,463.0 L446.4,461.3 L446.9,459.4 L447.4,457.5 L447.9,455.3 L448.4,453.1 L448.9,450.8 L449.4,448.3 L449.9,445.8 L450.3,443.2 L450.8,440.4 L451.3,437.7 L451.8,434.9 L452.3,432.0 L452.8,429.1 L453.3,426.1 L453.8,423.2 L454.3,420.2 L454.8,417.3 L455.3,414.3 L455.7,411.4 L456.2,408.5 L456.7,405.7 L457.2,402.9 L457.7,400.1 L458.2,397.5 L458.7,394.9 L459.2,392.4 L459.7,390.1 L460.2,387.8 L460.6,385.6 L461.1,383.6 L461.6,381.7 L462.1,379.9 L462.6,378.3 L463.1,376.8 L463.6,375.5 L464.1,374.4 L464.6,373.4 L465.1,372.5 L465.6,371.9 L466.0,371.4 L466.5,371.1 L467.0,370.9 L467.5,370.9 L468.0,371.1 L468.5,371.5 L469.0,372.1 L469.5,372.8 L470.0,373.7 L470.5,374.7 L470.9,375.9 L471.4,377.3 L471.9,378.8 L472.4,380.5 L472.9,382.3 L473.4,384.3 L473.9,386.3 L474.4,388.5 L474.9,390.8 L475.4,393.3 L475.8,395.8 L476.3,398.4 L476.8,401.0 L477.3,403.8 L477.8,406.6 L478.3,409.5" fill="none" stroke="#6b6b6b" stroke-width="3.1" stroke-linejoin="round"/></g>
<rect x="86" y="363.5" width="392.3" height="117.10000000000002" fill="none" stroke="#333" stroke-width="1.6"/>
<line x1="79" y1="370.8" x2="86" y2="370.8" stroke="#333" stroke-width="1.3"/>
<text x="70.50" y="377.70" font-size="17.5" text-anchor="end" font-weight="normal" fill="#111" >5</text>
<line x1="79" y1="421.2" x2="86" y2="421.2" stroke="#333" stroke-width="1.3"/>
<text x="70.50" y="428.10" font-size="17.5" text-anchor="end" font-weight="normal" fill="#111" >0</text>
<line x1="79" y1="471.4" x2="86" y2="471.4" stroke="#333" stroke-width="1.3"/>
<text x="70.50" y="478.30" font-size="17.5" text-anchor="end" font-weight="normal" fill="#111" >-5</text>
<line x1="86.00" y1="480.6" x2="86.00" y2="487.1" stroke="#333" stroke-width="1.3"/>
<line x1="138.31" y1="480.6" x2="138.31" y2="487.1" stroke="#333" stroke-width="1.3"/>
<line x1="190.61" y1="480.6" x2="190.61" y2="487.1" stroke="#333" stroke-width="1.3"/>
<line x1="242.92" y1="480.6" x2="242.92" y2="487.1" stroke="#333" stroke-width="1.3"/>
<line x1="295.23" y1="480.6" x2="295.23" y2="487.1" stroke="#333" stroke-width="1.3"/>
<line x1="347.53" y1="480.6" x2="347.53" y2="487.1" stroke="#333" stroke-width="1.3"/>
<line x1="399.84" y1="480.6" x2="399.84" y2="487.1" stroke="#333" stroke-width="1.3"/>
<line x1="452.15" y1="480.6" x2="452.15" y2="487.1" stroke="#333" stroke-width="1.3"/>
<clipPath id="cp1"><rect x="86" y="508.2" width="392.3" height="116.40000000000003"/></clipPath>
<g clip-path="url(#cp1)"><path d="M86.0,583.6 L86.8,580.2 L87.6,577.1 L88.5,571.8 L89.3,566.0 L90.1,562.0 L90.9,556.7 L91.7,551.5 L92.5,547.9 L93.4,544.6 L94.2,540.9 L95.0,535.1 L95.8,531.9 L96.6,528.0 L97.4,525.7 L98.3,524.3 L99.1,521.8 L99.9,520.6 L100.7,518.0 L101.5,516.9 L102.3,516.4 L103.2,517.9 L104.0,518.2 L104.8,519.1 L105.6,519.8 L106.4,521.7 L107.2,523.8 L108.1,526.6 L108.9,530.1 L109.7,532.2 L110.5,535.5 L111.3,540.6 L112.2,543.7 L113.0,547.7 L113.8,552.7 L114.6,557.5 L115.4,561.4 L116.2,568.1 L117.1,571.6 L117.9,575.3 L118.7,580.7 L119.5,585.0 L120.3,590.1 L121.1,593.2 L122.0,595.7 L122.8,598.7 L123.6,601.8 L124.4,606.4 L125.2,608.3 L126.0,608.8 L126.9,610.9 L127.7,611.8 L128.5,613.2 L129.3,611.0 L130.1,612.5 L131.0,611.8 L131.8,608.3 L132.6,607.9 L133.4,604.9 L134.2,602.2 L135.0,599.4 L135.9,595.9 L136.7,592.3 L137.5,588.2 L138.3,585.5 L139.1,579.5 L139.9,576.4 L140.8,572.2 L141.6,567.5 L142.4,562.6 L143.2,557.4 L144.0,552.2 L144.8,548.9 L145.7,544.9 L146.5,540.1 L147.3,534.8 L148.1,531.3 L148.9,527.7 L149.7,524.9 L150.6,523.0 L151.4,519.9 L152.2,520.3 L153.0,518.2 L153.8,515.9 L154.7,516.5 L155.5,515.5 L156.3,516.6 L157.1,517.3 L157.9,519.7 L158.7,521.7 L159.6,522.9 L160.4,525.8 L161.2,529.7 L162.0,531.5 L162.8,534.9 L163.6,540.7 L164.5,542.9 L165.3,547.6 L166.1,553.0 L166.9,557.1 L167.7,561.0 L168.5,566.5 L169.4,572.6 L170.2,576.0 L171.0,581.4 L171.8,583.8 L172.6,588.0 L173.5,593.0 L174.3,597.2 L175.1,600.9 L175.9,603.2 L176.7,605.7 L177.5,607.5 L178.4,609.5 L179.2,610.8 L180.0,611.0 L180.8,611.1 L181.6,611.1 L182.4,612.8 L183.3,611.1 L184.1,608.2 L184.9,607.3 L185.7,606.6 L186.5,603.0 L187.3,600.5 L188.2,596.0 L189.0,593.4 L189.8,589.4 L190.6,584.4 L191.4,581.3 L192.2,576.0 L193.1,572.1 L193.9,566.0 L194.7,561.3 L195.5,556.9 L196.3,551.7 L197.2,548.8 L198.0,544.3 L198.8,539.4 L199.6,534.6 L200.4,532.5 L201.2,529.5 L202.1,526.5 L202.9,522.2 L203.7,520.3 L204.5,519.1 L205.3,516.9 L206.1,516.8 L207.0,516.1 L207.8,516.9 L208.6,516.8 L209.4,518.6 L210.2,519.2 L211.0,520.8 L211.9,523.4 L212.7,524.9 L213.5,529.6 L214.3,532.1 L215.1,536.2 L215.9,538.9 L216.8,544.6 L217.6,548.8 L218.4,552.0 L219.2,558.7 L220.0,561.8 L220.9,566.6 L221.7,572.7 L222.5,576.4 L223.3,579.8 L224.1,585.5 L224.9,590.0 L225.8,593.0 L226.6,596.8 L227.4,600.9 L228.2,602.3 L229.0,605.2 L229.8,607.6 L230.7,609.8 L231.5,610.3 L232.3,611.2 L233.1,612.1 L233.9,611.9 L234.7,612.2 L235.6,612.0 L236.4,609.8 L237.2,608.1 L238.0,604.7 L238.8,603.3 L239.7,599.7 L240.5,596.7 L241.3,593.3 L242.1,588.8 L242.9,584.9 L243.7,580.4 L244.6,576.0 L245.4,571.3 L246.2,566.6 L247.0,562.5 L247.8,556.8 L248.6,553.8 L249.5,548.8 L250.3,542.7 L251.1,538.6 L251.9,534.7 L252.7,531.3 L253.5,530.1 L254.4,526.7 L255.2,523.2 L256.0,520.8 L256.8,518.5 L257.6,519.1 L258.4,517.3 L259.3,517.0 L260.1,516.4 L260.9,516.5 L261.7,518.3 L262.5,520.3 L263.4,520.4 L264.2,524.7 L265.0,527.2 L265.8,529.6 L266.6,531.1 L267.4,536.8 L268.3,540.8 L269.1,543.4 L269.9,548.2 L270.7,553.2 L271.5,556.4 L272.3,561.2 L273.2,567.5 L274.0,571.8 L274.8,576.0 L275.6,580.6 L276.4,586.1 L277.2,588.6 L278.1,592.8 L278.9,597.4 L279.7,599.6 L280.5,602.1 L281.3,604.4 L282.1,607.0 L283.0,609.1 L283.8,610.6 L284.6,611.4 L285.4,611.1 L286.2,611.4 L287.1,611.5 L287.9,611.8 L288.7,608.7 L289.5,608.2 L290.3,605.8 L291.1,602.8 L292.0,600.2 L292.8,597.5 L293.6,593.4 L294.4,589.9 L295.2,584.8 L296.0,579.5 L296.9,575.2 L297.7,570.2 L298.5,566.6 L299.3,561.2 L300.1,557.8 L300.9,551.8 L301.8,548.3 L302.6,544.9 L303.4,539.1 L304.2,534.9 L305.0,533.3 L305.9,530.0 L306.7,525.7 L307.5,522.6 L308.3,521.1 L309.1,518.6 L309.9,519.2 L310.8,518.0 L311.6,515.8 L312.4,516.9 L313.2,516.4 L314.0,517.3 L314.8,519.6 L315.7,522.3 L316.5,524.3 L317.3,526.6 L318.1,529.6 L318.9,531.5 L319.7,536.7 L320.6,538.7 L321.4,542.9 L322.2,547.7 L323.0,551.7 L323.8,557.4 L324.6,561.5 L325.5,567.2 L326.3,572.6 L327.1,574.9 L327.9,581.0 L328.7,584.9 L329.6,590.1 L330.4,592.2 L331.2,595.9 L332.0,600.0 L332.8,603.3 L333.6,605.8 L334.5,607.2 L335.3,609.5 L336.1,610.6 L336.9,611.8 L337.7,613.0 L338.5,611.5 L339.4,612.2 L340.2,610.6 L341.0,609.8 L341.8,607.0 L342.6,605.7 L343.4,602.6 L344.3,600.0 L345.1,596.6 L345.9,593.0 L346.7,588.1 L347.5,585.9 L348.4,581.5 L349.2,575.2 L350.0,571.7 L350.8,567.7 L351.6,563.0 L352.4,557.4 L353.3,551.4 L354.1,549.1 L354.9,544.5 L355.7,539.2 L356.5,534.7 L357.3,533.2 L358.2,528.9 L359.0,527.0 L359.8,522.9 L360.6,521.1 L361.4,520.0 L362.2,516.9 L363.1,516.5 L363.9,517.5 L364.7,517.9 L365.5,517.8 L366.3,518.4 L367.1,518.9 L368.0,522.3 L368.8,523.7 L369.6,525.1 L370.4,529.9 L371.2,532.6 L372.1,536.5 L372.9,539.8 L373.7,544.5 L374.5,548.2 L375.3,552.2 L376.1,556.9 L377.0,562.6 L377.8,567.6 L378.6,571.0 L379.4,576.8 L380.2,581.1 L381.0,583.8 L381.9,589.4 L382.7,593.1 L383.5,596.3 L384.3,600.2 L385.1,603.8 L385.9,605.9 L386.8,608.8 L387.6,609.7 L388.4,610.4 L389.2,610.6 L390.0,611.2 L390.8,611.9 L391.7,610.6 L392.5,611.5 L393.3,610.2 L394.1,608.1 L394.9,605.2 L395.8,603.4 L396.6,598.9 L397.4,597.3 L398.2,593.2 L399.0,587.7 L399.8,584.7 L400.7,580.3 L401.5,575.6 L402.3,572.5 L403.1,567.2 L403.9,561.2 L404.7,558.5 L405.6,553.2 L406.4,549.1 L407.2,544.0 L408.0,539.1 L408.8,535.4 L409.6,531.4 L410.5,527.9 L411.3,524.9 L412.1,523.1 L412.9,520.5 L413.7,519.0 L414.6,516.9 L415.4,516.9 L416.2,517.5 L417.0,516.0 L417.8,516.6 L418.6,518.3 L419.5,519.9 L420.3,520.6 L421.1,524.1 L421.9,526.7 L422.7,527.8 L423.5,532.7 L424.4,536.6 L425.2,539.1 L426.0,543.2 L426.8,548.2 L427.6,553.0 L428.4,557.6 L429.3,561.0 L430.1,567.9 L430.9,571.1 L431.7,576.1 L432.5,580.3 L433.3,586.2 L434.2,589.8 L435.0,593.5 L435.8,597.2 L436.6,600.0 L437.4,603.0 L438.3,606.6 L439.1,608.3 L439.9,610.6 L440.7,611.9 L441.5,612.6 L442.3,611.8 L443.2,613.3 L444.0,610.8 L444.8,611.4 L445.6,609.3 L446.4,608.0 L447.2,606.0 L448.1,603.0 L448.9,600.2 L449.7,595.9 L450.5,592.9 L451.3,588.4 L452.1,585.3 L453.0,581.7 L453.8,575.9 L454.6,570.7 L455.4,566.0 L456.2,562.6 L457.1,557.7 L457.9,552.3 L458.7,548.9 L459.5,543.9 L460.3,539.5 L461.1,536.0 L462.0,533.0 L462.8,527.8 L463.6,525.1 L464.4,524.1 L465.2,520.1 L466.0,519.6 L466.9,518.5 L467.7,517.7 L468.5,516.0 L469.3,517.3 L470.1,517.7 L470.9,517.2 L471.8,519.3 L472.6,520.2 L473.4,523.2 L474.2,526.8 L475.0,529.5 L475.8,533.6 L476.7,535.6 L477.5,539.0 L478.3,544.2 L478.3,551.4 L477.5,547.8 L476.7,542.7 L475.8,539.3 L475.0,536.6 L474.2,532.1 L473.4,530.7 L472.6,527.4 L471.8,526.7 L470.9,525.9 L470.1,524.0 L469.3,523.7 L468.5,523.2 L467.7,523.4 L466.9,525.8 L466.0,526.3 L465.2,527.8 L464.4,530.6 L463.6,531.4 L462.8,535.3 L462.0,538.9 L461.1,541.4 L460.3,546.3 L459.5,549.9 L458.7,554.6 L457.9,558.8 L457.1,564.4 L456.2,569.7 L455.4,573.4 L454.6,577.6 L453.8,583.2 L453.0,588.2 L452.1,592.1 L451.3,596.0 L450.5,600.5 L449.7,604.1 L448.9,605.4 L448.1,609.8 L447.2,612.8 L446.4,613.7 L445.6,617.1 L444.8,617.2 L444.0,618.2 L443.2,618.6 L442.3,620.0 L441.5,619.5 L440.7,618.7 L439.9,615.2 L439.1,615.6 L438.3,610.9 L437.4,609.2 L436.6,605.9 L435.8,602.9 L435.0,599.3 L434.2,595.5 L433.3,591.9 L432.5,586.5 L431.7,581.7 L430.9,577.7 L430.1,573.5 L429.3,570.0 L428.4,563.5 L427.6,559.5 L426.8,555.9 L426.0,551.8 L425.2,545.5 L424.4,542.1 L423.5,538.9 L422.7,535.0 L421.9,532.3 L421.1,529.6 L420.3,527.2 L419.5,526.7 L418.6,525.3 L417.8,523.8 L417.0,524.4 L416.2,523.3 L415.4,522.9 L414.6,523.5 L413.7,525.2 L412.9,529.0 L412.1,530.8 L411.3,531.5 L410.5,536.3 L409.6,538.1 L408.8,541.3 L408.0,547.0 L407.2,550.3 L406.4,554.7 L405.6,560.6 L404.7,565.0 L403.9,569.2 L403.1,573.5 L402.3,577.2 L401.5,582.7 L400.7,586.9 L399.8,590.4 L399.0,595.8 L398.2,599.1 L397.4,604.3 L396.6,606.7 L395.8,610.0 L394.9,612.8 L394.1,613.7 L393.3,616.5 L392.5,616.3 L391.7,618.1 L390.8,617.6 L390.0,618.3 L389.2,617.7 L388.4,617.1 L387.6,615.8 L386.8,614.2 L385.9,612.7 L385.1,608.9 L384.3,606.5 L383.5,602.8 L382.7,600.5 L381.9,594.8 L381.0,591.5 L380.2,587.7 L379.4,583.9 L378.6,578.2 L377.8,574.7 L377.0,567.6 L376.1,565.0 L375.3,560.2 L374.5,554.9 L373.7,550.3 L372.9,547.1 L372.1,543.5 L371.2,537.9 L370.4,535.3 L369.6,532.6 L368.8,530.9 L368.0,529.1 L367.1,526.3 L366.3,525.3 L365.5,523.7 L364.7,523.5 L363.9,522.3 L363.1,524.1 L362.2,524.5 L361.4,527.1 L360.6,528.3 L359.8,529.7 L359.0,533.4 L358.2,535.3 L357.3,537.7 L356.5,541.4 L355.7,546.9 L354.9,551.6 L354.1,555.6 L353.3,559.3 L352.4,564.3 L351.6,567.9 L350.8,573.9 L350.0,577.1 L349.2,582.8 L348.4,586.6 L347.5,592.2 L346.7,594.4 L345.9,598.3 L345.1,602.8 L344.3,607.0 L343.4,610.1 L342.6,611.3 L341.8,614.5 L341.0,615.8 L340.2,616.5 L339.4,618.3 L338.5,620.0 L337.7,618.2 L336.9,618.6 L336.1,618.0 L335.3,617.3 L334.5,614.8 L333.6,612.7 L332.8,609.8 L332.0,606.3 L331.2,603.5 L330.4,599.0 L329.6,596.9 L328.7,591.0 L327.9,587.8 L327.1,582.4 L326.3,577.4 L325.5,574.6 L324.6,568.4 L323.8,563.0 L323.0,558.4 L322.2,554.4 L321.4,551.6 L320.6,546.1 L319.7,542.8 L318.9,538.2 L318.1,534.6 L317.3,533.9 L316.5,530.0 L315.7,526.7 L314.8,525.0 L314.0,524.6 L313.2,522.6 L312.4,524.3 L311.6,523.3 L310.8,525.0 L309.9,525.8 L309.1,526.3 L308.3,527.7 L307.5,529.5 L306.7,533.2 L305.9,535.0 L305.0,538.2 L304.2,543.4 L303.4,547.0 L302.6,551.1 L301.8,553.6 L300.9,559.3 L300.1,563.0 L299.3,569.3 L298.5,573.8 L297.7,578.4 L296.9,582.8 L296.0,587.2 L295.2,591.6 L294.4,596.5 L293.6,598.4 L292.8,603.2 L292.0,607.1 L291.1,608.4 L290.3,611.6 L289.5,614.5 L288.7,615.5 L287.9,618.3 L287.1,617.9 L286.2,618.1 L285.4,619.5 L284.6,617.7 L283.8,617.6 L283.0,615.5 L282.1,614.9 L281.3,612.8 L280.5,610.3 L279.7,606.2 L278.9,604.3 L278.1,599.2 L277.2,595.0 L276.4,591.1 L275.6,587.5 L274.8,583.8 L274.0,578.3 L273.2,572.5 L272.3,570.0 L271.5,564.6 L270.7,560.8 L269.9,556.1 L269.1,549.8 L268.3,545.4 L267.4,542.1 L266.6,539.0 L265.8,534.9 L265.0,533.2 L264.2,530.3 L263.4,527.3 L262.5,526.0 L261.7,526.0 L260.9,524.4 L260.1,522.9 L259.3,524.3 L258.4,524.9 L257.6,524.9 L256.8,525.6 L256.0,528.2 L255.2,528.9 L254.4,533.3 L253.5,534.4 L252.7,539.9 L251.9,542.8 L251.1,546.2 L250.3,551.2 L249.5,553.9 L248.6,559.7 L247.8,563.8 L247.0,569.4 L246.2,573.2 L245.4,578.5 L244.6,583.2 L243.7,587.8 L242.9,591.4 L242.1,595.0 L241.3,598.9 L240.5,602.9 L239.7,605.5 L238.8,610.4 L238.0,611.4 L237.2,613.4 L236.4,616.5 L235.6,618.2 L234.7,618.2 L233.9,618.8 L233.1,617.7 L232.3,617.7 L231.5,616.5 L230.7,616.8 L229.8,613.5 L229.0,612.4 L228.2,608.5 L227.4,605.7 L226.6,602.3 L225.8,599.7 L224.9,595.9 L224.1,590.6 L223.3,586.1 L222.5,583.0 L221.7,578.3 L220.9,573.3 L220.0,569.3 L219.2,564.0 L218.4,558.9 L217.6,555.8 L216.8,550.1 L215.9,546.4 L215.1,542.5 L214.3,537.8 L213.5,536.6 L212.7,533.1 L211.9,530.4 L211.0,526.8 L210.2,526.2 L209.4,525.8 L208.6,523.1 L207.8,523.1 L207.0,523.8 L206.1,524.3 L205.3,525.2 L204.5,526.3 L203.7,527.0 L202.9,531.2 L202.1,531.4 L201.2,536.3 L200.4,538.7 L199.6,543.2 L198.8,547.3 L198.0,551.3 L197.2,555.2 L196.3,558.8 L195.5,565.2 L194.7,569.4 L193.9,572.5 L193.1,578.9 L192.2,582.2 L191.4,586.3 L190.6,590.4 L189.8,594.5 L189.0,598.4 L188.2,604.1 L187.3,606.9 L186.5,608.8 L185.7,611.4 L184.9,614.5 L184.1,616.3 L183.3,617.9 L182.4,618.0 L181.6,617.7 L180.8,619.0 L180.0,617.2 L179.2,618.5 L178.4,616.5 L177.5,613.9 L176.7,612.1 L175.9,609.1 L175.1,606.1 L174.3,603.4 L173.5,599.0 L172.6,594.7 L171.8,592.0 L171.0,587.1 L170.2,583.7 L169.4,578.5 L168.5,574.1 L167.7,570.0 L166.9,565.0 L166.1,558.8 L165.3,555.1 L164.5,549.9 L163.6,545.8 L162.8,543.5 L162.0,539.3 L161.2,536.6 L160.4,531.9 L159.6,529.0 L158.7,526.8 L157.9,524.9 L157.1,524.5 L156.3,523.4 L155.5,522.4 L154.7,523.4 L153.8,523.9 L153.0,524.1 L152.2,525.7 L151.4,528.0 L150.6,528.9 L149.7,531.6 L148.9,536.4 L148.1,537.8 L147.3,542.5 L146.5,546.0 L145.7,550.7 L144.8,553.7 L144.0,559.1 L143.2,563.7 L142.4,567.9 L141.6,572.8 L140.8,578.3 L139.9,582.0 L139.1,587.6 L138.3,591.4 L137.5,596.1 L136.7,598.9 L135.9,602.6 L135.0,606.6 L134.2,609.4 L133.4,612.4 L132.6,615.0 L131.8,615.2 L131.0,616.7 L130.1,619.4 L129.3,619.2 L128.5,618.4 L127.7,618.2 L126.9,617.8 L126.0,615.2 L125.2,613.7 L124.4,611.7 L123.6,610.5 L122.8,606.2 L122.0,604.4 L121.1,600.5 L120.3,595.1 L119.5,590.8 L118.7,586.6 L117.9,581.8 L117.1,578.3 L116.2,573.7 L115.4,568.6 L114.6,564.6 L113.8,559.5 L113.0,554.3 L112.2,551.5 L111.3,546.9 L110.5,543.8 L109.7,538.1 L108.9,535.8 L108.1,532.1 L107.2,531.4 L106.4,527.2 L105.6,526.0 L104.8,525.6 L104.0,524.4 L103.2,523.2 L102.3,522.8 L101.5,522.6 L100.7,524.6 L99.9,524.9 L99.1,527.7 L98.3,528.9 L97.4,532.3 L96.6,536.1 L95.8,539.5 L95.0,541.7 L94.2,546.1 L93.4,551.5 L92.5,553.8 L91.7,559.9 L90.9,563.9 L90.1,569.7 L89.3,574.1 L88.5,577.1 L87.6,581.4 L86.8,586.2 L86.0,592.6Z" fill="#aa1f25"/><path d="M86.0,588.1 L86.5,585.5 L87.0,582.9 L87.5,580.2 L88.0,577.4 L88.5,574.7 L88.9,571.9 L89.4,569.1 L89.9,566.2 L90.4,563.4 L90.9,560.6 L91.4,557.9 L91.9,555.1 L92.4,552.4 L92.9,549.8 L93.4,547.2 L93.8,544.7 L94.3,542.3 L94.8,539.9 L95.3,537.7 L95.8,535.6 L96.3,533.5 L96.8,531.6 L97.3,529.8 L97.8,528.2 L98.3,526.7 L98.7,525.3 L99.2,524.1 L99.7,523.0 L100.2,522.1 L100.7,521.3 L101.2,520.7 L101.7,520.3 L102.2,520.0 L102.7,519.9 L103.2,520.0 L103.7,520.2 L104.1,520.6 L104.6,521.2 L105.1,521.9 L105.6,522.8 L106.1,523.8 L106.6,525.0 L107.1,526.3 L107.6,527.8 L108.1,529.4 L108.6,531.1 L109.0,533.0 L109.5,535.0 L110.0,537.1 L110.5,539.3 L111.0,541.7 L111.5,544.1 L112.0,546.5 L112.5,549.1 L113.0,551.7 L113.5,554.4 L114.0,557.1 L114.4,559.9 L114.9,562.7 L115.4,565.5 L115.9,568.3 L116.4,571.1 L116.9,573.9 L117.4,576.7 L117.9,579.5 L118.4,582.2 L118.9,584.8 L119.3,587.4 L119.8,590.0 L120.3,592.4 L120.8,594.8 L121.3,597.1 L121.8,599.2 L122.3,601.3 L122.8,603.2 L123.3,605.1 L123.8,606.8 L124.2,608.3 L124.7,609.7 L125.2,611.0 L125.7,612.1 L126.2,613.1 L126.7,613.9 L127.2,614.6 L127.7,615.1 L128.2,615.4 L128.7,615.5 L129.2,615.5 L129.6,615.4 L130.1,615.0 L130.6,614.5 L131.1,613.9 L131.6,613.0 L132.1,612.1 L132.6,610.9 L133.1,609.6 L133.6,608.2 L134.1,606.6 L134.5,604.9 L135.0,603.1 L135.5,601.2 L136.0,599.1 L136.5,596.9 L137.0,594.6 L137.5,592.2 L138.0,589.8 L138.5,587.3 L139.0,584.6 L139.5,582.0 L139.9,579.3 L140.4,576.5 L140.9,573.7 L141.4,570.9 L141.9,568.1 L142.4,565.3 L142.9,562.5 L143.4,559.7 L143.9,556.9 L144.4,554.2 L144.8,551.5 L145.3,548.9 L145.8,546.4 L146.3,543.9 L146.8,541.5 L147.3,539.2 L147.8,537.0 L148.3,534.9 L148.8,532.9 L149.3,531.0 L149.7,529.3 L150.2,527.7 L150.7,526.2 L151.2,524.9 L151.7,523.7 L152.2,522.7 L152.7,521.8 L153.2,521.1 L153.7,520.6 L154.2,520.2 L154.7,520.0 L155.1,519.9 L155.6,520.0 L156.1,520.3 L156.6,520.8 L157.1,521.4 L157.6,522.2 L158.1,523.1 L158.6,524.2 L159.1,525.4 L159.6,526.8 L160.0,528.3 L160.5,530.0 L161.0,531.8 L161.5,533.7 L162.0,535.7 L162.5,537.8 L163.0,540.1 L163.5,542.4 L164.0,544.9 L164.5,547.4 L165.0,550.0 L165.4,552.6 L165.9,555.3 L166.4,558.0 L166.9,560.8 L167.4,563.6 L167.9,566.4 L168.4,569.2 L168.9,572.1 L169.4,574.9 L169.9,577.6 L170.3,580.4 L170.8,583.1 L171.3,585.7 L171.8,588.3 L172.3,590.8 L172.8,593.2 L173.3,595.5 L173.8,597.8 L174.3,599.9 L174.8,602.0 L175.2,603.9 L175.7,605.6 L176.2,607.3 L176.7,608.8 L177.2,610.2 L177.7,611.4 L178.2,612.5 L178.7,613.4 L179.2,614.1 L179.7,614.7 L180.2,615.2 L180.6,615.5 L181.1,615.6 L181.6,615.5 L182.1,615.3 L182.6,614.9 L183.1,614.3 L183.6,613.6 L184.1,612.7 L184.6,611.7 L185.1,610.5 L185.5,609.2 L186.0,607.7 L186.5,606.1 L187.0,604.3 L187.5,602.5 L188.0,600.5 L188.5,598.4 L189.0,596.2 L189.5,593.8 L190.0,591.4 L190.4,588.9 L190.9,586.4 L191.4,583.8 L191.9,581.1 L192.4,578.4 L192.9,575.6 L193.4,572.8 L193.9,570.0 L194.4,567.2 L194.9,564.4 L195.4,561.6 L195.8,558.8 L196.3,556.0 L196.8,553.3 L197.3,550.7 L197.8,548.1 L198.3,545.5 L198.8,543.1 L199.3,540.7 L199.8,538.4 L200.3,536.3 L200.7,534.2 L201.2,532.3 L201.7,530.4 L202.2,528.7 L202.7,527.2 L203.2,525.8 L203.7,524.5 L204.2,523.4 L204.7,522.4 L205.2,521.6 L205.7,520.9 L206.1,520.4 L206.6,520.1 L207.1,519.9 L207.6,520.0 L208.1,520.1 L208.6,520.5 L209.1,521.0 L209.6,521.6 L210.1,522.4 L210.6,523.4 L211.0,524.6 L211.5,525.8 L212.0,527.3 L212.5,528.8 L213.0,530.5 L213.5,532.4 L214.0,534.3 L214.5,536.4 L215.0,538.6 L215.5,540.9 L215.9,543.2 L216.4,545.7 L216.9,548.2 L217.4,550.8 L217.9,553.5 L218.4,556.2 L218.9,559.0 L219.4,561.8 L219.9,564.6 L220.4,567.4 L220.9,570.2 L221.3,573.0 L221.8,575.8 L222.3,578.5 L222.8,581.3 L223.3,583.9 L223.8,586.6 L224.3,589.1 L224.8,591.6 L225.3,594.0 L225.8,596.3 L226.2,598.5 L226.7,600.6 L227.2,602.6 L227.7,604.5 L228.2,606.2 L228.7,607.8 L229.2,609.3 L229.7,610.6 L230.2,611.8 L230.7,612.8 L231.2,613.7 L231.6,614.4 L232.1,614.9 L232.6,615.3 L233.1,615.5 L233.6,615.6 L234.1,615.4 L234.6,615.2 L235.1,614.7 L235.6,614.1 L236.1,613.3 L236.5,612.4 L237.0,611.3 L237.5,610.1 L238.0,608.7 L238.5,607.2 L239.0,605.5 L239.5,603.7 L240.0,601.8 L240.5,599.8 L241.0,597.6 L241.4,595.4 L241.9,593.0 L242.4,590.6 L242.9,588.1 L243.4,585.5 L243.9,582.9 L244.4,580.2 L244.9,577.4 L245.4,574.7 L245.9,571.9 L246.4,569.1 L246.8,566.2 L247.3,563.4 L247.8,560.6 L248.3,557.9 L248.8,555.1 L249.3,552.4 L249.8,549.8 L250.3,547.2 L250.8,544.7 L251.3,542.3 L251.7,539.9 L252.2,537.7 L252.7,535.6 L253.2,533.5 L253.7,531.6 L254.2,529.8 L254.7,528.2 L255.2,526.7 L255.7,525.3 L256.2,524.1 L256.7,523.0 L257.1,522.1 L257.6,521.3 L258.1,520.7 L258.6,520.3 L259.1,520.0 L259.6,519.9 L260.1,520.0 L260.6,520.2 L261.1,520.6 L261.6,521.2 L262.0,521.9 L262.5,522.8 L263.0,523.8 L263.5,525.0 L264.0,526.3 L264.5,527.8 L265.0,529.4 L265.5,531.1 L266.0,533.0 L266.5,535.0 L266.9,537.1 L267.4,539.3 L267.9,541.7 L268.4,544.1 L268.9,546.5 L269.4,549.1 L269.9,551.7 L270.4,554.4 L270.9,557.1 L271.4,559.9 L271.9,562.7 L272.3,565.5 L272.8,568.3 L273.3,571.1 L273.8,573.9 L274.3,576.7 L274.8,579.5 L275.3,582.2 L275.8,584.8 L276.3,587.4 L276.8,590.0 L277.2,592.4 L277.7,594.8 L278.2,597.1 L278.7,599.2 L279.2,601.3 L279.7,603.2 L280.2,605.1 L280.7,606.8 L281.2,608.3 L281.7,609.7 L282.1,611.0 L282.6,612.1 L283.1,613.1 L283.6,613.9 L284.1,614.6 L284.6,615.1 L285.1,615.4 L285.6,615.5 L286.1,615.5 L286.6,615.4 L287.1,615.0 L287.5,614.5 L288.0,613.9 L288.5,613.0 L289.0,612.1 L289.5,610.9 L290.0,609.6 L290.5,608.2 L291.0,606.6 L291.5,604.9 L292.0,603.1 L292.4,601.2 L292.9,599.1 L293.4,596.9 L293.9,594.6 L294.4,592.2 L294.9,589.8 L295.4,587.3 L295.9,584.6 L296.4,582.0 L296.9,579.3 L297.4,576.5 L297.8,573.7 L298.3,570.9 L298.8,568.1 L299.3,565.3 L299.8,562.5 L300.3,559.7 L300.8,556.9 L301.3,554.2 L301.8,551.5 L302.3,548.9 L302.7,546.4 L303.2,543.9 L303.7,541.5 L304.2,539.2 L304.7,537.0 L305.2,534.9 L305.7,532.9 L306.2,531.0 L306.7,529.3 L307.2,527.7 L307.6,526.2 L308.1,524.9 L308.6,523.7 L309.1,522.7 L309.6,521.8 L310.1,521.1 L310.6,520.6 L311.1,520.2 L311.6,520.0 L312.1,519.9 L312.6,520.0 L313.0,520.3 L313.5,520.8 L314.0,521.4 L314.5,522.2 L315.0,523.1 L315.5,524.2 L316.0,525.4 L316.5,526.8 L317.0,528.3 L317.5,530.0 L317.9,531.8 L318.4,533.7 L318.9,535.7 L319.4,537.8 L319.9,540.1 L320.4,542.4 L320.9,544.9 L321.4,547.4 L321.9,550.0 L322.4,552.6 L322.9,555.3 L323.3,558.0 L323.8,560.8 L324.3,563.6 L324.8,566.4 L325.3,569.2 L325.8,572.1 L326.3,574.9 L326.8,577.6 L327.3,580.4 L327.8,583.1 L328.2,585.7 L328.7,588.3 L329.2,590.8 L329.7,593.2 L330.2,595.5 L330.7,597.8 L331.2,599.9 L331.7,602.0 L332.2,603.9 L332.7,605.6 L333.1,607.3 L333.6,608.8 L334.1,610.2 L334.6,611.4 L335.1,612.5 L335.6,613.4 L336.1,614.1 L336.6,614.7 L337.1,615.2 L337.6,615.5 L338.1,615.6 L338.5,615.5 L339.0,615.3 L339.5,614.9 L340.0,614.3 L340.5,613.6 L341.0,612.7 L341.5,611.7 L342.0,610.5 L342.5,609.2 L343.0,607.7 L343.4,606.1 L343.9,604.3 L344.4,602.5 L344.9,600.5 L345.4,598.4 L345.9,596.2 L346.4,593.8 L346.9,591.4 L347.4,588.9 L347.9,586.4 L348.4,583.8 L348.8,581.1 L349.3,578.4 L349.8,575.6 L350.3,572.8 L350.8,570.0 L351.3,567.2 L351.8,564.4 L352.3,561.6 L352.8,558.8 L353.3,556.0 L353.7,553.3 L354.2,550.7 L354.7,548.1 L355.2,545.5 L355.7,543.1 L356.2,540.7 L356.7,538.4 L357.2,536.3 L357.7,534.2 L358.2,532.3 L358.6,530.4 L359.1,528.7 L359.6,527.2 L360.1,525.8 L360.6,524.5 L361.1,523.4 L361.6,522.4 L362.1,521.6 L362.6,520.9 L363.1,520.4 L363.6,520.1 L364.0,519.9 L364.5,520.0 L365.0,520.1 L365.5,520.5 L366.0,521.0 L366.5,521.6 L367.0,522.4 L367.5,523.4 L368.0,524.6 L368.5,525.8 L368.9,527.3 L369.4,528.8 L369.9,530.5 L370.4,532.4 L370.9,534.3 L371.4,536.4 L371.9,538.6 L372.4,540.9 L372.9,543.2 L373.4,545.7 L373.9,548.2 L374.3,550.8 L374.8,553.5 L375.3,556.2 L375.8,559.0 L376.3,561.8 L376.8,564.6 L377.3,567.4 L377.8,570.2 L378.3,573.0 L378.8,575.8 L379.2,578.5 L379.7,581.3 L380.2,583.9 L380.7,586.6 L381.2,589.1 L381.7,591.6 L382.2,594.0 L382.7,596.3 L383.2,598.5 L383.7,600.6 L384.1,602.6 L384.6,604.5 L385.1,606.2 L385.6,607.8 L386.1,609.3 L386.6,610.6 L387.1,611.8 L387.6,612.8 L388.1,613.7 L388.6,614.4 L389.1,614.9 L389.5,615.3 L390.0,615.5 L390.5,615.6 L391.0,615.4 L391.5,615.2 L392.0,614.7 L392.5,614.1 L393.0,613.3 L393.5,612.4 L394.0,611.3 L394.4,610.1 L394.9,608.7 L395.4,607.2 L395.9,605.5 L396.4,603.7 L396.9,601.8 L397.4,599.8 L397.9,597.6 L398.4,595.4 L398.9,593.0 L399.3,590.6 L399.8,588.1 L400.3,585.5 L400.8,582.9 L401.3,580.2 L401.8,577.4 L402.3,574.7 L402.8,571.9 L403.3,569.1 L403.8,566.2 L404.3,563.4 L404.7,560.6 L405.2,557.9 L405.7,555.1 L406.2,552.4 L406.7,549.8 L407.2,547.2 L407.7,544.7 L408.2,542.3 L408.7,539.9 L409.2,537.7 L409.6,535.6 L410.1,533.5 L410.6,531.6 L411.1,529.8 L411.6,528.2 L412.1,526.7 L412.6,525.3 L413.1,524.1 L413.6,523.0 L414.1,522.1 L414.6,521.3 L415.0,520.7 L415.5,520.3 L416.0,520.0 L416.5,519.9 L417.0,520.0 L417.5,520.2 L418.0,520.6 L418.5,521.2 L419.0,521.9 L419.5,522.8 L419.9,523.8 L420.4,525.0 L420.9,526.3 L421.4,527.8 L421.9,529.4 L422.4,531.1 L422.9,533.0 L423.4,535.0 L423.9,537.1 L424.4,539.3 L424.8,541.7 L425.3,544.1 L425.8,546.5 L426.3,549.1 L426.8,551.7 L427.3,554.4 L427.8,557.1 L428.3,559.9 L428.8,562.7 L429.3,565.5 L429.8,568.3 L430.2,571.1 L430.7,573.9 L431.2,576.7 L431.7,579.5 L432.2,582.2 L432.7,584.8 L433.2,587.4 L433.7,590.0 L434.2,592.4 L434.7,594.8 L435.1,597.1 L435.6,599.2 L436.1,601.3 L436.6,603.2 L437.1,605.1 L437.6,606.8 L438.1,608.3 L438.6,609.7 L439.1,611.0 L439.6,612.1 L440.1,613.1 L440.5,613.9 L441.0,614.6 L441.5,615.1 L442.0,615.4 L442.5,615.5 L443.0,615.5 L443.5,615.4 L444.0,615.0 L444.5,614.5 L445.0,613.9 L445.4,613.0 L445.9,612.1 L446.4,610.9 L446.9,609.6 L447.4,608.2 L447.9,606.6 L448.4,604.9 L448.9,603.1 L449.4,601.2 L449.9,599.1 L450.3,596.9 L450.8,594.6 L451.3,592.2 L451.8,589.8 L452.3,587.3 L452.8,584.6 L453.3,582.0 L453.8,579.3 L454.3,576.5 L454.8,573.7 L455.3,570.9 L455.7,568.1 L456.2,565.3 L456.7,562.5 L457.2,559.7 L457.7,556.9 L458.2,554.2 L458.7,551.5 L459.2,548.9 L459.7,546.4 L460.2,543.9 L460.6,541.5 L461.1,539.2 L461.6,537.0 L462.1,534.9 L462.6,532.9 L463.1,531.0 L463.6,529.3 L464.1,527.7 L464.6,526.2 L465.1,524.9 L465.6,523.7 L466.0,522.7 L466.5,521.8 L467.0,521.1 L467.5,520.6 L468.0,520.2 L468.5,520.0 L469.0,519.9 L469.5,520.0 L470.0,520.3 L470.5,520.8 L470.9,521.4 L471.4,522.2 L471.9,523.1 L472.4,524.2 L472.9,525.4 L473.4,526.8 L473.9,528.3 L474.4,530.0 L474.9,531.8 L475.4,533.7 L475.8,535.7 L476.3,537.8 L476.8,540.1 L477.3,542.4 L477.8,544.9 L478.3,547.4" fill="none" stroke="#aa1f25" stroke-width="3.3" stroke-linejoin="round"/></g>
<rect x="86" y="508.2" width="392.3" height="116.40000000000003" fill="none" stroke="#333" stroke-width="1.6"/>
<line x1="79" y1="508.2" x2="86" y2="508.2" stroke="#333" stroke-width="1.3"/>
<text x="70.50" y="515.10" font-size="17.5" text-anchor="end" font-weight="normal" fill="#111" >30</text>
<line x1="79" y1="563" x2="86" y2="563" stroke="#333" stroke-width="1.3"/>
<text x="70.50" y="569.90" font-size="17.5" text-anchor="end" font-weight="normal" fill="#111" >0</text>
<line x1="79" y1="617.7" x2="86" y2="617.7" stroke="#333" stroke-width="1.3"/>
<text x="70.50" y="624.60" font-size="17.5" text-anchor="end" font-weight="normal" fill="#111" >-30</text>
<line x1="86.00" y1="624.6" x2="86.00" y2="631.1" stroke="#333" stroke-width="1.3"/>
<line x1="138.31" y1="624.6" x2="138.31" y2="631.1" stroke="#333" stroke-width="1.3"/>
<line x1="190.61" y1="624.6" x2="190.61" y2="631.1" stroke="#333" stroke-width="1.3"/>
<line x1="242.92" y1="624.6" x2="242.92" y2="631.1" stroke="#333" stroke-width="1.3"/>
<line x1="295.23" y1="624.6" x2="295.23" y2="631.1" stroke="#333" stroke-width="1.3"/>
<line x1="347.53" y1="624.6" x2="347.53" y2="631.1" stroke="#333" stroke-width="1.3"/>
<line x1="399.84" y1="624.6" x2="399.84" y2="631.1" stroke="#333" stroke-width="1.3"/>
<line x1="452.15" y1="624.6" x2="452.15" y2="631.1" stroke="#333" stroke-width="1.3"/>
<clipPath id="cp2"><rect x="86" y="652.2" width="392.3" height="116.79999999999995"/></clipPath>
<g clip-path="url(#cp2)"><path d="M86.0,736.2 L86.8,731.4 L87.6,726.9 L88.5,722.1 L89.3,717.1 L90.1,712.3 L90.9,707.3 L91.7,702.6 L92.5,697.5 L93.4,692.9 L94.2,688.4 L95.0,683.9 L95.8,680.1 L96.6,676.5 L97.4,672.8 L98.3,669.8 L99.1,667.1 L99.9,664.9 L100.7,663.4 L101.5,661.8 L102.3,661.1 L103.2,661.1 L104.0,661.1 L104.8,661.4 L105.6,662.8 L106.4,664.5 L107.2,666.5 L108.1,668.6 L108.9,671.6 L109.7,675.0 L110.5,678.7 L111.3,682.7 L112.2,686.4 L113.0,691.2 L113.8,695.9 L114.6,700.4 L115.4,705.5 L116.2,710.3 L117.1,715.3 L117.9,720.1 L118.7,724.9 L119.5,729.8 L120.3,734.1 L121.1,738.5 L122.0,742.4 L122.8,746.2 L123.6,749.8 L124.4,752.6 L125.2,755.5 L126.0,757.5 L126.9,759.5 L127.7,760.6 L128.5,761.4 L129.3,762.1 L130.1,761.6 L131.0,761.2 L131.8,759.7 L132.6,758.6 L133.4,756.5 L134.2,753.8 L135.0,751.1 L135.9,747.7 L136.7,744.1 L137.5,740.4 L138.3,736.3 L139.1,731.5 L139.9,727.2 L140.8,722.0 L141.6,717.2 L142.4,712.5 L143.2,707.7 L144.0,702.7 L144.8,697.6 L145.7,693.2 L146.5,688.6 L147.3,684.0 L148.1,680.3 L148.9,676.2 L149.7,672.8 L150.6,669.9 L151.4,667.5 L152.2,665.2 L153.0,663.1 L153.8,662.3 L154.7,661.2 L155.5,661.1 L156.3,661.0 L157.1,661.5 L157.9,662.7 L158.7,664.3 L159.6,666.2 L160.4,668.5 L161.2,671.7 L162.0,674.7 L162.8,678.5 L163.6,682.6 L164.5,686.7 L165.3,691.3 L166.1,695.8 L166.9,700.2 L167.7,705.5 L168.5,710.2 L169.4,715.3 L170.2,720.3 L171.0,724.9 L171.8,729.9 L172.6,734.1 L173.5,738.6 L174.3,742.5 L175.1,746.3 L175.9,749.5 L176.7,752.4 L177.5,755.1 L178.4,757.8 L179.2,759.1 L180.0,760.5 L180.8,761.6 L181.6,761.9 L182.4,761.8 L183.3,761.2 L184.1,760.0 L184.9,758.4 L185.7,756.3 L186.5,754.0 L187.3,750.9 L188.2,747.9 L189.0,744.3 L189.8,740.4 L190.6,736.0 L191.4,731.5 L192.2,727.1 L193.1,722.3 L193.9,717.4 L194.7,712.3 L195.5,707.7 L196.3,702.7 L197.2,697.5 L198.0,693.2 L198.8,688.4 L199.6,684.0 L200.4,680.2 L201.2,676.7 L202.1,673.2 L202.9,669.8 L203.7,667.1 L204.5,665.2 L205.3,663.6 L206.1,661.8 L207.0,661.4 L207.8,660.8 L208.6,660.9 L209.4,661.4 L210.2,663.0 L211.0,664.0 L211.9,666.4 L212.7,668.5 L213.5,671.8 L214.3,675.0 L215.1,678.5 L215.9,682.6 L216.8,686.6 L217.6,691.2 L218.4,695.7 L219.2,700.7 L220.0,705.6 L220.9,710.4 L221.7,715.4 L222.5,720.1 L223.3,724.9 L224.1,729.6 L224.9,734.0 L225.8,738.4 L226.6,742.4 L227.4,746.2 L228.2,749.9 L229.0,752.6 L229.8,755.4 L230.7,757.7 L231.5,759.1 L232.3,760.7 L233.1,761.4 L233.9,762.0 L234.7,761.6 L235.6,761.0 L236.4,760.1 L237.2,758.3 L238.0,756.3 L238.8,754.1 L239.7,751.1 L240.5,748.0 L241.3,744.1 L242.1,740.4 L242.9,736.1 L243.7,731.7 L244.6,726.9 L245.4,722.0 L246.2,717.4 L247.0,712.6 L247.8,707.7 L248.6,702.6 L249.5,698.0 L250.3,693.2 L251.1,688.4 L251.9,684.1 L252.7,680.0 L253.5,676.4 L254.4,673.2 L255.2,670.1 L256.0,667.5 L256.8,665.3 L257.6,663.4 L258.4,662.0 L259.3,661.2 L260.1,661.0 L260.9,661.0 L261.7,661.4 L262.5,662.9 L263.4,664.4 L264.2,666.4 L265.0,669.0 L265.8,671.5 L266.6,675.1 L267.4,678.6 L268.3,682.5 L269.1,686.8 L269.9,691.2 L270.7,695.8 L271.5,700.6 L272.3,705.3 L273.2,710.2 L274.0,715.2 L274.8,720.4 L275.6,725.0 L276.4,729.7 L277.2,734.3 L278.1,738.6 L278.9,742.4 L279.7,746.2 L280.5,749.4 L281.3,752.7 L282.1,755.6 L283.0,757.7 L283.8,759.2 L284.6,760.5 L285.4,761.7 L286.2,761.5 L287.1,761.6 L287.9,761.3 L288.7,759.8 L289.5,758.3 L290.3,756.2 L291.1,753.7 L292.0,751.1 L292.8,747.9 L293.6,744.2 L294.4,740.0 L295.2,735.9 L296.0,731.9 L296.9,726.8 L297.7,722.1 L298.5,717.1 L299.3,712.4 L300.1,707.5 L300.9,702.7 L301.8,697.9 L302.6,692.9 L303.4,688.3 L304.2,683.9 L305.0,680.4 L305.9,676.5 L306.7,673.1 L307.5,670.2 L308.3,667.2 L309.1,665.1 L309.9,663.4 L310.8,662.2 L311.6,661.0 L312.4,660.8 L313.2,661.2 L314.0,661.4 L314.8,662.9 L315.7,664.4 L316.5,666.2 L317.3,668.5 L318.1,671.7 L318.9,675.1 L319.7,678.5 L320.6,682.2 L321.4,686.4 L322.2,691.2 L323.0,695.5 L323.8,700.5 L324.6,705.2 L325.5,710.5 L326.3,715.0 L327.1,720.0 L327.9,725.1 L328.7,729.7 L329.6,734.2 L330.4,738.6 L331.2,742.7 L332.0,746.4 L332.8,749.8 L333.6,752.6 L334.5,755.4 L335.3,757.6 L336.1,759.6 L336.9,760.7 L337.7,761.6 L338.5,761.9 L339.4,761.9 L340.2,761.3 L341.0,759.8 L341.8,758.3 L342.6,756.4 L343.4,753.9 L344.3,751.2 L345.1,747.9 L345.9,744.1 L346.7,740.4 L347.5,736.3 L348.4,731.7 L349.2,727.0 L350.0,722.4 L350.8,717.6 L351.6,712.4 L352.4,707.6 L353.3,702.5 L354.1,697.9 L354.9,692.8 L355.7,688.7 L356.5,684.3 L357.3,680.4 L358.2,676.3 L359.0,673.1 L359.8,669.8 L360.6,667.3 L361.4,665.2 L362.2,663.3 L363.1,662.0 L363.9,661.3 L364.7,661.0 L365.5,660.9 L366.3,661.8 L367.1,662.9 L368.0,664.2 L368.8,666.4 L369.6,669.0 L370.4,671.7 L371.2,674.7 L372.1,678.6 L372.9,682.2 L373.7,686.6 L374.5,690.8 L375.3,695.8 L376.1,700.6 L377.0,705.5 L377.8,710.5 L378.6,715.0 L379.4,719.9 L380.2,725.1 L381.0,729.7 L381.9,734.4 L382.7,738.6 L383.5,742.4 L384.3,746.4 L385.1,749.9 L385.9,752.8 L386.8,755.3 L387.6,757.3 L388.4,759.2 L389.2,760.8 L390.0,761.2 L390.8,761.7 L391.7,761.5 L392.5,761.1 L393.3,759.8 L394.1,758.5 L394.9,756.1 L395.8,753.7 L396.6,751.0 L397.4,747.8 L398.2,743.9 L399.0,740.3 L399.8,735.9 L400.7,731.7 L401.5,726.8 L402.3,722.0 L403.1,717.2 L403.9,712.4 L404.7,707.5 L405.6,702.4 L406.4,697.5 L407.2,692.8 L408.0,688.3 L408.8,684.4 L409.6,680.1 L410.5,676.4 L411.3,673.0 L412.1,669.7 L412.9,667.4 L413.7,665.0 L414.6,663.3 L415.4,662.3 L416.2,661.4 L417.0,660.8 L417.8,661.1 L418.6,661.7 L419.5,662.7 L420.3,664.4 L421.1,666.3 L421.9,668.8 L422.7,671.7 L423.5,674.9 L424.4,678.5 L425.2,682.6 L426.0,686.8 L426.8,690.8 L427.6,695.7 L428.4,700.6 L429.3,705.0 L430.1,710.3 L430.9,715.3 L431.7,720.0 L432.5,724.8 L433.3,729.4 L434.2,734.1 L435.0,738.5 L435.8,742.3 L436.6,746.5 L437.4,749.5 L438.3,752.7 L439.1,755.2 L439.9,757.7 L440.7,759.5 L441.5,760.6 L442.3,761.2 L443.2,761.7 L444.0,761.9 L444.8,761.3 L445.6,759.9 L446.4,758.2 L447.2,756.5 L448.1,753.8 L448.9,751.0 L449.7,747.6 L450.5,744.1 L451.3,740.1 L452.1,736.3 L453.0,731.7 L453.8,727.0 L454.6,722.1 L455.4,717.5 L456.2,712.5 L457.1,707.2 L457.9,702.8 L458.7,697.6 L459.5,693.1 L460.3,688.2 L461.1,684.3 L462.0,680.0 L462.8,676.7 L463.6,673.2 L464.4,670.2 L465.2,667.2 L466.0,665.0 L466.9,663.1 L467.7,662.0 L468.5,661.0 L469.3,660.7 L470.1,660.8 L470.9,661.5 L471.8,663.0 L472.6,664.4 L473.4,666.1 L474.2,668.5 L475.0,671.6 L475.8,675.1 L476.7,678.6 L477.5,682.4 L478.3,686.6 L478.3,687.8 L477.5,683.8 L476.7,679.9 L475.8,676.5 L475.0,673.2 L474.2,670.5 L473.4,667.7 L472.6,665.8 L471.8,664.2 L470.9,663.2 L470.1,662.6 L469.3,662.1 L468.5,662.6 L467.7,663.4 L466.9,665.0 L466.0,666.5 L465.2,669.0 L464.4,671.2 L463.6,674.5 L462.8,677.9 L462.0,681.8 L461.1,685.5 L460.3,690.0 L459.5,694.3 L458.7,699.2 L457.9,704.0 L457.1,709.1 L456.2,713.9 L455.4,718.8 L454.6,723.9 L453.8,728.3 L453.0,733.1 L452.1,737.5 L451.3,741.9 L450.5,745.7 L449.7,749.2 L448.9,752.7 L448.1,755.2 L447.2,758.0 L446.4,759.6 L445.6,761.7 L444.8,762.2 L444.0,763.0 L443.2,763.2 L442.3,763.0 L441.5,761.9 L440.7,760.9 L439.9,758.8 L439.1,756.7 L438.3,753.9 L437.4,751.3 L436.6,747.5 L435.8,743.8 L435.0,740.1 L434.2,735.4 L433.3,731.0 L432.5,726.2 L431.7,721.6 L430.9,716.9 L430.1,711.8 L429.3,706.9 L428.4,702.1 L427.6,697.1 L426.8,692.2 L426.0,687.8 L425.2,683.7 L424.4,679.9 L423.5,676.6 L422.7,673.3 L421.9,670.4 L421.1,667.7 L420.3,665.8 L419.5,664.0 L418.6,663.0 L417.8,662.7 L417.0,662.2 L416.2,662.8 L415.4,663.5 L414.6,664.7 L413.7,666.4 L412.9,668.9 L412.1,671.6 L411.3,674.6 L410.5,677.8 L409.6,681.7 L408.8,685.4 L408.0,689.9 L407.2,694.4 L406.4,699.4 L405.6,703.8 L404.7,708.9 L403.9,714.0 L403.1,718.6 L402.3,723.8 L401.5,728.3 L400.7,732.9 L399.8,737.7 L399.0,741.9 L398.2,745.6 L397.4,749.1 L396.6,752.6 L395.8,755.3 L394.9,757.8 L394.1,760.0 L393.3,761.4 L392.5,762.6 L391.7,763.0 L390.8,763.1 L390.0,763.0 L389.2,762.3 L388.4,760.6 L387.6,759.2 L386.8,757.0 L385.9,754.4 L385.1,751.1 L384.3,747.9 L383.5,743.7 L382.7,740.1 L381.9,735.5 L381.0,730.9 L380.2,726.3 L379.4,721.7 L378.6,716.5 L377.8,711.8 L377.0,706.7 L376.1,701.7 L375.3,696.9 L374.5,692.5 L373.7,688.0 L372.9,683.9 L372.1,679.7 L371.2,676.5 L370.4,672.9 L369.6,670.3 L368.8,667.7 L368.0,665.6 L367.1,663.9 L366.3,663.1 L365.5,662.5 L364.7,662.5 L363.9,662.7 L363.1,663.7 L362.2,664.7 L361.4,666.3 L360.6,669.0 L359.8,671.2 L359.0,674.3 L358.2,677.8 L357.3,681.8 L356.5,685.8 L355.7,690.1 L354.9,694.6 L354.1,699.0 L353.3,704.1 L352.4,709.0 L351.6,714.0 L350.8,718.9 L350.0,723.9 L349.2,728.6 L348.4,733.3 L347.5,737.8 L346.7,741.7 L345.9,745.4 L345.1,749.5 L344.3,752.4 L343.4,755.5 L342.6,757.8 L341.8,759.9 L341.0,761.3 L340.2,762.5 L339.4,763.3 L338.5,763.0 L337.7,762.6 L336.9,762.1 L336.1,760.7 L335.3,759.2 L334.5,756.8 L333.6,754.4 L332.8,751.3 L332.0,747.5 L331.2,743.7 L330.4,740.0 L329.6,735.4 L328.7,731.0 L327.9,726.3 L327.1,721.5 L326.3,716.4 L325.5,711.9 L324.6,707.0 L323.8,701.7 L323.0,697.1 L322.2,692.5 L321.4,688.1 L320.6,683.9 L319.7,679.8 L318.9,676.1 L318.1,673.1 L317.3,670.4 L316.5,668.0 L315.7,665.6 L314.8,664.2 L314.0,663.1 L313.2,662.3 L312.4,662.1 L311.6,662.6 L310.8,663.4 L309.9,664.9 L309.1,666.8 L308.3,668.9 L307.5,671.3 L306.7,674.4 L305.9,677.6 L305.0,681.8 L304.2,685.5 L303.4,689.8 L302.6,694.3 L301.8,699.0 L300.9,704.0 L300.1,708.6 L299.3,713.9 L298.5,718.8 L297.7,723.9 L296.9,728.7 L296.0,732.9 L295.2,737.6 L294.4,741.5 L293.6,745.5 L292.8,749.4 L292.0,752.6 L291.1,755.4 L290.3,758.0 L289.5,760.0 L288.7,761.3 L287.9,762.7 L287.1,763.0 L286.2,763.4 L285.4,762.8 L284.6,762.0 L283.8,761.0 L283.0,759.1 L282.1,757.0 L281.3,754.3 L280.5,751.2 L279.7,747.6 L278.9,744.2 L278.1,740.2 L277.2,735.6 L276.4,731.2 L275.6,726.5 L274.8,721.5 L274.0,716.6 L273.2,711.4 L272.3,706.6 L271.5,701.7 L270.7,697.0 L269.9,692.5 L269.1,687.8 L268.3,683.7 L267.4,680.1 L266.6,676.6 L265.8,672.9 L265.0,670.2 L264.2,668.0 L263.4,666.0 L262.5,664.2 L261.7,663.0 L260.9,662.7 L260.1,662.4 L259.3,662.4 L258.4,663.6 L257.6,664.9 L256.8,666.3 L256.0,668.8 L255.2,671.2 L254.4,674.7 L253.5,677.9 L252.7,681.7 L251.9,685.5 L251.1,689.8 L250.3,694.5 L249.5,699.0 L248.6,704.2 L247.8,709.1 L247.0,714.0 L246.2,718.6 L245.4,723.9 L244.6,728.6 L243.7,733.3 L242.9,737.4 L242.1,741.5 L241.3,745.7 L240.5,749.1 L239.7,752.7 L238.8,755.5 L238.0,757.6 L237.2,760.1 L236.4,761.5 L235.6,762.4 L234.7,763.3 L233.9,763.4 L233.1,762.9 L232.3,762.1 L231.5,760.5 L230.7,758.8 L229.8,756.9 L229.0,754.0 L228.2,750.9 L227.4,747.7 L226.6,744.1 L225.8,740.0 L224.9,735.5 L224.1,731.1 L223.3,726.4 L222.5,721.7 L221.7,716.8 L220.9,711.7 L220.0,706.8 L219.2,702.1 L218.4,696.9 L217.6,692.6 L216.8,688.0 L215.9,684.0 L215.1,679.9 L214.3,676.1 L213.5,673.3 L212.7,670.4 L211.9,667.9 L211.0,665.6 L210.2,664.4 L209.4,663.0 L208.6,662.7 L207.8,662.3 L207.0,662.5 L206.1,663.5 L205.3,664.6 L204.5,666.5 L203.7,668.7 L202.9,671.4 L202.1,674.5 L201.2,678.0 L200.4,681.9 L199.6,685.6 L198.8,689.8 L198.0,694.3 L197.2,699.1 L196.3,704.1 L195.5,708.7 L194.7,713.7 L193.9,718.5 L193.1,723.4 L192.2,728.7 L191.4,732.9 L190.6,737.5 L189.8,741.6 L189.0,745.6 L188.2,749.4 L187.3,752.4 L186.5,755.6 L185.7,758.0 L184.9,759.6 L184.1,761.4 L183.3,762.6 L182.4,762.9 L181.6,763.5 L180.8,763.1 L180.0,762.3 L179.2,760.9 L178.4,759.2 L177.5,757.0 L176.7,754.3 L175.9,750.9 L175.1,747.9 L174.3,744.1 L173.5,739.9 L172.6,735.6 L171.8,731.3 L171.0,726.6 L170.2,721.4 L169.4,716.6 L168.5,711.7 L167.7,706.5 L166.9,701.7 L166.1,696.8 L165.3,692.3 L164.5,687.8 L163.6,683.6 L162.8,679.7 L162.0,676.4 L161.2,672.9 L160.4,670.0 L159.6,668.0 L158.7,665.9 L157.9,664.1 L157.1,663.3 L156.3,662.6 L155.5,662.3 L154.7,662.6 L153.8,663.3 L153.0,665.0 L152.2,666.4 L151.4,668.7 L150.6,671.5 L149.7,674.4 L148.9,678.1 L148.1,681.5 L147.3,685.4 L146.5,690.0 L145.7,694.7 L144.8,699.3 L144.0,704.1 L143.2,708.8 L142.4,714.0 L141.6,718.7 L140.8,723.6 L139.9,728.4 L139.1,733.3 L138.3,737.3 L137.5,741.6 L136.7,745.5 L135.9,749.0 L135.0,752.3 L134.2,755.2 L133.4,757.8 L132.6,759.6 L131.8,761.5 L131.0,762.3 L130.1,763.1 L129.3,763.4 L128.5,763.0 L127.7,762.1 L126.9,760.6 L126.0,759.2 L125.2,756.7 L124.4,754.1 L123.6,751.3 L122.8,747.5 L122.0,744.1 L121.1,739.7 L120.3,735.7 L119.5,731.3 L118.7,726.7 L117.9,721.7 L117.1,716.8 L116.2,711.9 L115.4,706.6 L114.6,702.0 L113.8,697.1 L113.0,692.3 L112.2,688.0 L111.3,684.0 L110.5,680.0 L109.7,676.3 L108.9,673.2 L108.1,670.3 L107.2,667.8 L106.4,665.7 L105.6,664.1 L104.8,663.2 L104.0,662.6 L103.2,662.4 L102.3,662.5 L101.5,663.3 L100.7,664.7 L99.9,666.6 L99.1,668.7 L98.3,671.2 L97.4,674.2 L96.6,677.8 L95.8,681.6 L95.0,685.6 L94.2,690.0 L93.4,694.3 L92.5,699.4 L91.7,703.8 L90.9,708.7 L90.1,714.1 L89.3,718.8 L88.5,723.9 L87.6,728.2 L86.8,733.1 L86.0,737.5Z" fill="#3d7fbf"/><path d="M86.0,736.8 L86.5,734.2 L87.0,731.4 L87.5,728.7 L88.0,725.8 L88.5,723.0 L88.9,720.0 L89.4,717.1 L89.9,714.1 L90.4,711.1 L90.9,708.2 L91.4,705.2 L91.9,702.3 L92.4,699.4 L92.9,696.5 L93.4,693.7 L93.8,691.0 L94.3,688.3 L94.8,685.7 L95.3,683.2 L95.8,680.9 L96.3,678.6 L96.8,676.4 L97.3,674.4 L97.8,672.5 L98.3,670.7 L98.7,669.0 L99.2,667.6 L99.7,666.2 L100.2,665.1 L100.7,664.1 L101.2,663.2 L101.7,662.5 L102.2,662.1 L102.7,661.7 L103.2,661.6 L103.7,661.6 L104.1,661.8 L104.6,662.2 L105.1,662.7 L105.6,663.4 L106.1,664.3 L106.6,665.4 L107.1,666.6 L107.6,668.0 L108.1,669.5 L108.6,671.2 L109.0,673.0 L109.5,674.9 L110.0,677.0 L110.5,679.2 L111.0,681.5 L111.5,683.9 L112.0,686.5 L112.5,689.1 L113.0,691.7 L113.5,694.5 L114.0,697.3 L114.4,700.2 L114.9,703.1 L115.4,706.0 L115.9,709.0 L116.4,712.0 L116.9,714.9 L117.4,717.9 L117.9,720.9 L118.4,723.8 L118.9,726.6 L119.3,729.5 L119.8,732.2 L120.3,734.9 L120.8,737.5 L121.3,740.0 L121.8,742.5 L122.3,744.8 L122.8,747.0 L123.3,749.1 L123.8,751.0 L124.2,752.9 L124.7,754.5 L125.2,756.1 L125.7,757.4 L126.2,758.7 L126.7,759.7 L127.2,760.6 L127.7,761.4 L128.2,761.9 L128.7,762.3 L129.2,762.5 L129.6,762.5 L130.1,762.4 L130.6,762.1 L131.1,761.6 L131.6,760.9 L132.1,760.1 L132.6,759.1 L133.1,757.9 L133.6,756.6 L134.1,755.1 L134.5,753.5 L135.0,751.8 L135.5,749.8 L136.0,747.8 L136.5,745.7 L137.0,743.4 L137.5,741.0 L138.0,738.5 L138.5,735.9 L139.0,733.3 L139.5,730.5 L139.9,727.7 L140.4,724.9 L140.9,722.0 L141.4,719.1 L141.9,716.1 L142.4,713.1 L142.9,710.2 L143.4,707.2 L143.9,704.2 L144.4,701.3 L144.8,698.4 L145.3,695.6 L145.8,692.8 L146.3,690.1 L146.8,687.5 L147.3,684.9 L147.8,682.4 L148.3,680.1 L148.8,677.8 L149.3,675.7 L149.7,673.7 L150.2,671.8 L150.7,670.1 L151.2,668.5 L151.7,667.1 L152.2,665.8 L152.7,664.7 L153.2,663.8 L153.7,663.0 L154.2,662.4 L154.7,661.9 L155.1,661.7 L155.6,661.6 L156.1,661.6 L156.6,661.9 L157.1,662.3 L157.6,662.9 L158.1,663.7 L158.6,664.7 L159.1,665.8 L159.6,667.0 L160.0,668.5 L160.5,670.0 L161.0,671.7 L161.5,673.6 L162.0,675.6 L162.5,677.7 L163.0,680.0 L163.5,682.3 L164.0,684.8 L164.5,687.3 L165.0,689.9 L165.4,692.7 L165.9,695.4 L166.4,698.3 L166.9,701.2 L167.4,704.1 L167.9,707.0 L168.4,710.0 L168.9,713.0 L169.4,715.9 L169.9,718.9 L170.3,721.8 L170.8,724.7 L171.3,727.6 L171.8,730.4 L172.3,733.1 L172.8,735.8 L173.3,738.4 L173.8,740.9 L174.3,743.2 L174.8,745.5 L175.2,747.7 L175.7,749.7 L176.2,751.7 L176.7,753.4 L177.2,755.1 L177.7,756.5 L178.2,757.9 L178.7,759.0 L179.2,760.0 L179.7,760.9 L180.2,761.6 L180.6,762.1 L181.1,762.4 L181.6,762.5 L182.1,762.5 L182.6,762.3 L183.1,761.9 L183.6,761.4 L184.1,760.7 L184.6,759.8 L185.1,758.7 L185.5,757.5 L186.0,756.1 L186.5,754.6 L187.0,752.9 L187.5,751.1 L188.0,749.2 L188.5,747.1 L189.0,744.9 L189.5,742.6 L190.0,740.2 L190.4,737.7 L190.9,735.0 L191.4,732.4 L191.9,729.6 L192.4,726.8 L192.9,723.9 L193.4,721.0 L193.9,718.1 L194.4,715.1 L194.9,712.1 L195.4,709.2 L195.8,706.2 L196.3,703.3 L196.8,700.3 L197.3,697.5 L197.8,694.7 L198.3,691.9 L198.8,689.2 L199.3,686.6 L199.8,684.1 L200.3,681.6 L200.7,679.3 L201.2,677.1 L201.7,675.0 L202.2,673.1 L202.7,671.3 L203.2,669.6 L203.7,668.0 L204.2,666.7 L204.7,665.4 L205.2,664.4 L205.7,663.5 L206.1,662.8 L206.6,662.2 L207.1,661.8 L207.6,661.6 L208.1,661.6 L208.6,661.7 L209.1,662.0 L209.6,662.5 L210.1,663.2 L210.6,664.0 L211.0,665.0 L211.5,666.2 L212.0,667.5 L212.5,669.0 L213.0,670.6 L213.5,672.4 L214.0,674.3 L214.5,676.3 L215.0,678.5 L215.5,680.7 L215.9,683.1 L216.4,685.6 L216.9,688.2 L217.4,690.8 L217.9,693.6 L218.4,696.4 L218.9,699.2 L219.4,702.1 L219.9,705.1 L220.4,708.0 L220.9,711.0 L221.3,714.0 L221.8,716.9 L222.3,719.9 L222.8,722.8 L223.3,725.7 L223.8,728.5 L224.3,731.3 L224.8,734.0 L225.3,736.7 L225.8,739.2 L226.2,741.7 L226.7,744.0 L227.2,746.3 L227.7,748.4 L228.2,750.4 L228.7,752.3 L229.2,754.0 L229.7,755.6 L230.2,757.0 L230.7,758.3 L231.2,759.4 L231.6,760.3 L232.1,761.1 L232.6,761.7 L233.1,762.2 L233.6,762.5 L234.1,762.5 L234.6,762.5 L235.1,762.2 L235.6,761.8 L236.1,761.2 L236.5,760.4 L237.0,759.5 L237.5,758.3 L238.0,757.1 L238.5,755.7 L239.0,754.1 L239.5,752.4 L240.0,750.5 L240.5,748.5 L241.0,746.4 L241.4,744.1 L241.9,741.8 L242.4,739.3 L242.9,736.8 L243.4,734.2 L243.9,731.4 L244.4,728.7 L244.9,725.8 L245.4,723.0 L245.9,720.0 L246.4,717.1 L246.8,714.1 L247.3,711.1 L247.8,708.2 L248.3,705.2 L248.8,702.3 L249.3,699.4 L249.8,696.5 L250.3,693.7 L250.8,691.0 L251.3,688.3 L251.7,685.7 L252.2,683.2 L252.7,680.9 L253.2,678.6 L253.7,676.4 L254.2,674.4 L254.7,672.5 L255.2,670.7 L255.7,669.0 L256.2,667.6 L256.7,666.2 L257.1,665.1 L257.6,664.1 L258.1,663.2 L258.6,662.5 L259.1,662.1 L259.6,661.7 L260.1,661.6 L260.6,661.6 L261.1,661.8 L261.6,662.2 L262.0,662.7 L262.5,663.4 L263.0,664.3 L263.5,665.4 L264.0,666.6 L264.5,668.0 L265.0,669.5 L265.5,671.2 L266.0,673.0 L266.5,674.9 L266.9,677.0 L267.4,679.2 L267.9,681.5 L268.4,683.9 L268.9,686.5 L269.4,689.1 L269.9,691.7 L270.4,694.5 L270.9,697.3 L271.4,700.2 L271.9,703.1 L272.3,706.0 L272.8,709.0 L273.3,712.0 L273.8,714.9 L274.3,717.9 L274.8,720.9 L275.3,723.8 L275.8,726.6 L276.3,729.5 L276.8,732.2 L277.2,734.9 L277.7,737.5 L278.2,740.0 L278.7,742.5 L279.2,744.8 L279.7,747.0 L280.2,749.1 L280.7,751.0 L281.2,752.9 L281.7,754.5 L282.1,756.1 L282.6,757.4 L283.1,758.7 L283.6,759.7 L284.1,760.6 L284.6,761.4 L285.1,761.9 L285.6,762.3 L286.1,762.5 L286.6,762.5 L287.1,762.4 L287.5,762.1 L288.0,761.6 L288.5,760.9 L289.0,760.1 L289.5,759.1 L290.0,757.9 L290.5,756.6 L291.0,755.1 L291.5,753.5 L292.0,751.8 L292.4,749.8 L292.9,747.8 L293.4,745.7 L293.9,743.4 L294.4,741.0 L294.9,738.5 L295.4,735.9 L295.9,733.3 L296.4,730.5 L296.9,727.7 L297.4,724.9 L297.8,722.0 L298.3,719.1 L298.8,716.1 L299.3,713.1 L299.8,710.2 L300.3,707.2 L300.8,704.2 L301.3,701.3 L301.8,698.4 L302.3,695.6 L302.7,692.8 L303.2,690.1 L303.7,687.5 L304.2,684.9 L304.7,682.4 L305.2,680.1 L305.7,677.8 L306.2,675.7 L306.7,673.7 L307.2,671.8 L307.6,670.1 L308.1,668.5 L308.6,667.1 L309.1,665.8 L309.6,664.7 L310.1,663.8 L310.6,663.0 L311.1,662.4 L311.6,661.9 L312.1,661.7 L312.6,661.6 L313.0,661.6 L313.5,661.9 L314.0,662.3 L314.5,662.9 L315.0,663.7 L315.5,664.7 L316.0,665.8 L316.5,667.0 L317.0,668.5 L317.5,670.0 L317.9,671.7 L318.4,673.6 L318.9,675.6 L319.4,677.7 L319.9,680.0 L320.4,682.3 L320.9,684.8 L321.4,687.3 L321.9,689.9 L322.4,692.7 L322.9,695.4 L323.3,698.3 L323.8,701.2 L324.3,704.1 L324.8,707.0 L325.3,710.0 L325.8,713.0 L326.3,715.9 L326.8,718.9 L327.3,721.8 L327.8,724.7 L328.2,727.6 L328.7,730.4 L329.2,733.1 L329.7,735.8 L330.2,738.4 L330.7,740.9 L331.2,743.2 L331.7,745.5 L332.2,747.7 L332.7,749.7 L333.1,751.7 L333.6,753.4 L334.1,755.1 L334.6,756.5 L335.1,757.9 L335.6,759.0 L336.1,760.0 L336.6,760.9 L337.1,761.6 L337.6,762.1 L338.1,762.4 L338.5,762.5 L339.0,762.5 L339.5,762.3 L340.0,761.9 L340.5,761.4 L341.0,760.7 L341.5,759.8 L342.0,758.7 L342.5,757.5 L343.0,756.1 L343.4,754.6 L343.9,752.9 L344.4,751.1 L344.9,749.2 L345.4,747.1 L345.9,744.9 L346.4,742.6 L346.9,740.2 L347.4,737.7 L347.9,735.0 L348.4,732.4 L348.8,729.6 L349.3,726.8 L349.8,723.9 L350.3,721.0 L350.8,718.1 L351.3,715.1 L351.8,712.1 L352.3,709.2 L352.8,706.2 L353.3,703.3 L353.7,700.3 L354.2,697.5 L354.7,694.7 L355.2,691.9 L355.7,689.2 L356.2,686.6 L356.7,684.1 L357.2,681.6 L357.7,679.3 L358.2,677.1 L358.6,675.0 L359.1,673.1 L359.6,671.3 L360.1,669.6 L360.6,668.0 L361.1,666.7 L361.6,665.4 L362.1,664.4 L362.6,663.5 L363.1,662.8 L363.6,662.2 L364.0,661.8 L364.5,661.6 L365.0,661.6 L365.5,661.7 L366.0,662.0 L366.5,662.5 L367.0,663.2 L367.5,664.0 L368.0,665.0 L368.5,666.2 L368.9,667.5 L369.4,669.0 L369.9,670.6 L370.4,672.4 L370.9,674.3 L371.4,676.3 L371.9,678.5 L372.4,680.7 L372.9,683.1 L373.4,685.6 L373.9,688.2 L374.3,690.8 L374.8,693.6 L375.3,696.4 L375.8,699.2 L376.3,702.1 L376.8,705.1 L377.3,708.0 L377.8,711.0 L378.3,714.0 L378.8,716.9 L379.2,719.9 L379.7,722.8 L380.2,725.7 L380.7,728.5 L381.2,731.3 L381.7,734.0 L382.2,736.7 L382.7,739.2 L383.2,741.7 L383.7,744.0 L384.1,746.3 L384.6,748.4 L385.1,750.4 L385.6,752.3 L386.1,754.0 L386.6,755.6 L387.1,757.0 L387.6,758.3 L388.1,759.4 L388.6,760.3 L389.1,761.1 L389.5,761.7 L390.0,762.2 L390.5,762.5 L391.0,762.5 L391.5,762.5 L392.0,762.2 L392.5,761.8 L393.0,761.2 L393.5,760.4 L394.0,759.5 L394.4,758.3 L394.9,757.1 L395.4,755.7 L395.9,754.1 L396.4,752.4 L396.9,750.5 L397.4,748.5 L397.9,746.4 L398.4,744.1 L398.9,741.8 L399.3,739.3 L399.8,736.8 L400.3,734.2 L400.8,731.4 L401.3,728.7 L401.8,725.8 L402.3,723.0 L402.8,720.0 L403.3,717.1 L403.8,714.1 L404.3,711.1 L404.7,708.2 L405.2,705.2 L405.7,702.3 L406.2,699.4 L406.7,696.5 L407.2,693.7 L407.7,691.0 L408.2,688.3 L408.7,685.7 L409.2,683.2 L409.6,680.9 L410.1,678.6 L410.6,676.4 L411.1,674.4 L411.6,672.5 L412.1,670.7 L412.6,669.0 L413.1,667.6 L413.6,666.2 L414.1,665.1 L414.6,664.1 L415.0,663.2 L415.5,662.5 L416.0,662.1 L416.5,661.7 L417.0,661.6 L417.5,661.6 L418.0,661.8 L418.5,662.2 L419.0,662.7 L419.5,663.4 L419.9,664.3 L420.4,665.4 L420.9,666.6 L421.4,668.0 L421.9,669.5 L422.4,671.2 L422.9,673.0 L423.4,674.9 L423.9,677.0 L424.4,679.2 L424.8,681.5 L425.3,683.9 L425.8,686.5 L426.3,689.1 L426.8,691.7 L427.3,694.5 L427.8,697.3 L428.3,700.2 L428.8,703.1 L429.3,706.0 L429.8,709.0 L430.2,712.0 L430.7,714.9 L431.2,717.9 L431.7,720.9 L432.2,723.8 L432.7,726.6 L433.2,729.5 L433.7,732.2 L434.2,734.9 L434.7,737.5 L435.1,740.0 L435.6,742.5 L436.1,744.8 L436.6,747.0 L437.1,749.1 L437.6,751.0 L438.1,752.9 L438.6,754.5 L439.1,756.1 L439.6,757.4 L440.1,758.7 L440.5,759.7 L441.0,760.6 L441.5,761.4 L442.0,761.9 L442.5,762.3 L443.0,762.5 L443.5,762.5 L444.0,762.4 L444.5,762.1 L445.0,761.6 L445.4,760.9 L445.9,760.1 L446.4,759.1 L446.9,757.9 L447.4,756.6 L447.9,755.1 L448.4,753.5 L448.9,751.8 L449.4,749.8 L449.9,747.8 L450.3,745.7 L450.8,743.4 L451.3,741.0 L451.8,738.5 L452.3,735.9 L452.8,733.3 L453.3,730.5 L453.8,727.7 L454.3,724.9 L454.8,722.0 L455.3,719.1 L455.7,716.1 L456.2,713.1 L456.7,710.2 L457.2,707.2 L457.7,704.2 L458.2,701.3 L458.7,698.4 L459.2,695.6 L459.7,692.8 L460.2,690.1 L460.6,687.5 L461.1,684.9 L461.6,682.4 L462.1,680.1 L462.6,677.8 L463.1,675.7 L463.6,673.7 L464.1,671.8 L464.6,670.1 L465.1,668.5 L465.6,667.1 L466.0,665.8 L466.5,664.7 L467.0,663.8 L467.5,663.0 L468.0,662.4 L468.5,661.9 L469.0,661.7 L469.5,661.6 L470.0,661.6 L470.5,661.9 L470.9,662.3 L471.4,662.9 L471.9,663.7 L472.4,664.7 L472.9,665.8 L473.4,667.0 L473.9,668.5 L474.4,670.0 L474.9,671.7 L475.4,673.6 L475.8,675.6 L476.3,677.7 L476.8,680.0 L477.3,682.3 L477.8,684.8 L478.3,687.3" fill="none" stroke="#3d7fbf" stroke-width="3.0" stroke-linejoin="round"/></g>
<rect x="86" y="652.2" width="392.3" height="116.79999999999995" fill="none" stroke="#333" stroke-width="1.6"/>
<line x1="79" y1="663" x2="86" y2="663" stroke="#333" stroke-width="1.3"/>
<text x="70.50" y="669.90" font-size="17.5" text-anchor="end" font-weight="normal" fill="#111" >300</text>
<line x1="79" y1="709.3" x2="86" y2="709.3" stroke="#333" stroke-width="1.3"/>
<text x="70.50" y="716.20" font-size="17.5" text-anchor="end" font-weight="normal" fill="#111" >0</text>
<line x1="79" y1="754.8" x2="86" y2="754.8" stroke="#333" stroke-width="1.3"/>
<text x="70.50" y="761.70" font-size="17.5" text-anchor="end" font-weight="normal" fill="#111" >-300</text>
<line x1="86.00" y1="769.0" x2="86.00" y2="775.5" stroke="#333" stroke-width="1.3"/>
<line x1="138.31" y1="769.0" x2="138.31" y2="775.5" stroke="#333" stroke-width="1.3"/>
<line x1="190.61" y1="769.0" x2="190.61" y2="775.5" stroke="#333" stroke-width="1.3"/>
<line x1="242.92" y1="769.0" x2="242.92" y2="775.5" stroke="#333" stroke-width="1.3"/>
<line x1="295.23" y1="769.0" x2="295.23" y2="775.5" stroke="#333" stroke-width="1.3"/>
<line x1="347.53" y1="769.0" x2="347.53" y2="775.5" stroke="#333" stroke-width="1.3"/>
<line x1="399.84" y1="769.0" x2="399.84" y2="775.5" stroke="#333" stroke-width="1.3"/>
<line x1="452.15" y1="769.0" x2="452.15" y2="775.5" stroke="#333" stroke-width="1.3"/>
<text x="86.60" y="795.00" font-size="17.5" text-anchor="middle" font-weight="normal" fill="#111" >0</text>
<text x="138.91" y="795.00" font-size="17.5" text-anchor="middle" font-weight="normal" fill="#111" >2</text>
<text x="191.21" y="795.00" font-size="17.5" text-anchor="middle" font-weight="normal" fill="#111" >4</text>
<text x="243.52" y="795.00" font-size="17.5" text-anchor="middle" font-weight="normal" fill="#111" >6</text>
<text x="295.83" y="795.00" font-size="17.5" text-anchor="middle" font-weight="normal" fill="#111" >8</text>
<text x="348.13" y="795.00" font-size="17.5" text-anchor="middle" font-weight="normal" fill="#111" >10</text>
<text x="400.44" y="795.00" font-size="17.5" text-anchor="middle" font-weight="normal" fill="#111" >12</text>
<text x="452.75" y="795.00" font-size="17.5" text-anchor="middle" font-weight="normal" fill="#111" >14</text>
<text x="268.50" y="819.90" font-size="17.5" text-anchor="middle" font-weight="normal" fill="#111" >Time (ms)</text>
<g transform="translate(25.3,420.9) rotate(-90) scale(1,1.0)"><text x="0" y="0" font-size="18" text-anchor="middle" fill="#111">V<tspan font-size="9.5" dy="4.3">IN</tspan><tspan dy="-4.3"> (mV)</tspan></text></g>
<g transform="translate(25.3,561.7) rotate(-90) scale(1,1.0)"><text x="0" y="0" font-size="18" text-anchor="middle" fill="#111">-V<tspan font-size="12" dy="4.3" textLength="21.5" lengthAdjust="spacingAndGlyphs">OUT</tspan><tspan dy="-4.3"> (mV)</tspan></text></g>
<g transform="translate(25.3,707.5) rotate(-90) scale(1,1.0)"><text x="0" y="0" font-size="18" text-anchor="middle" fill="#111">-V<tspan font-size="12" dy="4.3" textLength="21.5" lengthAdjust="spacingAndGlyphs">OUT</tspan><tspan dy="-4.3"> (mV)</tspan></text></g>
<ellipse cx="709.1" cy="590.7" rx="103.5" ry="142.2" transform="rotate(-24.4 709.1 590.7)" fill="#e8f1fa"/>
<polygon points="706.60,532.10 723.30,532.10 714.95,548.80" fill="#4c72b0"/>
<polygon points="731.20,650.80 748.10,650.80 739.65,667.80" fill="#dd8452"/>
<polygon points="618.90,529.10 636.30,529.10 627.60,545.50" fill="#55a868"/>
<polygon points="712.70,541.10 729.10,541.10 720.90,558.00" fill="#c44e52"/>
<polygon points="603.20,539.50 619.20,539.50 611.20,556.40" fill="#8172b3"/>
<polygon points="750.20,505.50 767.20,505.50 758.70,522.30" fill="#937860"/>
<polygon points="684.80,575.30 701.40,575.30 693.10,591.80" fill="#da8bc3"/>
<polygon points="649.70,559.30 666.40,559.30 658.05,576.00" fill="#8c8c8c"/>
<polygon points="684.60,616.90 701.90,616.90 693.25,634.20" fill="#ccb974"/>
<polygon points="721.40,697.00 738.00,697.00 729.70,713.50" fill="#64b5cd"/>
<rect x="748.0" y="574.7" width="16.30" height="15.90" fill="#4c72b0"/>
<rect x="723.0" y="614.2" width="16.30" height="16.30" fill="#dd8452"/>
<rect x="757.0" y="575.2" width="16.30" height="15.50" fill="#55a868"/>
<rect x="608.7" y="601.4" width="16.40" height="16.30" fill="#c44e52"/>
<rect x="648.4" y="565.7" width="16.50" height="16.10" fill="#8172b3"/>
<rect x="773.0" y="605.8" width="16.20" height="16.20" fill="#937860"/>
<rect x="739.1" y="551.7" width="16.40" height="16.00" fill="#da8bc3"/>
<polygon points="930.00,436.20 933.20,443.39 941.03,444.22 935.19,449.48 936.82,457.18 930.00,453.25 923.18,457.18 924.81,449.48 918.97,444.22 926.80,443.39" fill="#c44e52"/>
<line x1="814.5" y1="531.2" x2="891" y2="474.9" stroke="#111" stroke-width="4"/>
<polygon points="899.50,468.70 884.50,470.60 893.90,482.30" fill="#111"/>
<rect x="600.8" y="405.7" width="360.40" height="360.40" fill="none" stroke="#333" stroke-width="2"/>
<line x1="593.80" y1="766.10" x2="600.8" y2="766.10" stroke="#333" stroke-width="1.5"/>
<line x1="595.80" y1="748.02" x2="600.8" y2="748.02" stroke="#333" stroke-width="1.5"/>
<line x1="595.80" y1="737.44" x2="600.8" y2="737.44" stroke="#333" stroke-width="1.5"/>
<line x1="595.80" y1="729.94" x2="600.8" y2="729.94" stroke="#333" stroke-width="1.5"/>
<line x1="595.80" y1="724.12" x2="600.8" y2="724.12" stroke="#333" stroke-width="1.5"/>
<line x1="595.80" y1="719.36" x2="600.8" y2="719.36" stroke="#333" stroke-width="1.5"/>
<line x1="595.80" y1="715.34" x2="600.8" y2="715.34" stroke="#333" stroke-width="1.5"/>
<line x1="595.80" y1="711.85" x2="600.8" y2="711.85" stroke="#333" stroke-width="1.5"/>
<line x1="595.80" y1="708.78" x2="600.8" y2="708.78" stroke="#333" stroke-width="1.5"/>
<line x1="593.80" y1="706.03" x2="600.8" y2="706.03" stroke="#333" stroke-width="1.5"/>
<line x1="595.80" y1="687.95" x2="600.8" y2="687.95" stroke="#333" stroke-width="1.5"/>
<line x1="595.80" y1="677.37" x2="600.8" y2="677.37" stroke="#333" stroke-width="1.5"/>
<line x1="595.80" y1="669.87" x2="600.8" y2="669.87" stroke="#333" stroke-width="1.5"/>
<line x1="595.80" y1="664.05" x2="600.8" y2="664.05" stroke="#333" stroke-width="1.5"/>
<line x1="595.80" y1="659.29" x2="600.8" y2="659.29" stroke="#333" stroke-width="1.5"/>
<line x1="595.80" y1="655.27" x2="600.8" y2="655.27" stroke="#333" stroke-width="1.5"/>
<line x1="595.80" y1="651.79" x2="600.8" y2="651.79" stroke="#333" stroke-width="1.5"/>
<line x1="595.80" y1="648.72" x2="600.8" y2="648.72" stroke="#333" stroke-width="1.5"/>
<line x1="593.80" y1="645.97" x2="600.8" y2="645.97" stroke="#333" stroke-width="1.5"/>
<line x1="595.80" y1="627.88" x2="600.8" y2="627.88" stroke="#333" stroke-width="1.5"/>
<line x1="595.80" y1="617.31" x2="600.8" y2="617.31" stroke="#333" stroke-width="1.5"/>
<line x1="595.80" y1="609.80" x2="600.8" y2="609.80" stroke="#333" stroke-width="1.5"/>
<line x1="595.80" y1="603.98" x2="600.8" y2="603.98" stroke="#333" stroke-width="1.5"/>
<line x1="595.80" y1="599.23" x2="600.8" y2="599.23" stroke="#333" stroke-width="1.5"/>
<line x1="595.80" y1="595.20" x2="600.8" y2="595.20" stroke="#333" stroke-width="1.5"/>
<line x1="595.80" y1="591.72" x2="600.8" y2="591.72" stroke="#333" stroke-width="1.5"/>
<line x1="595.80" y1="588.65" x2="600.8" y2="588.65" stroke="#333" stroke-width="1.5"/>
<line x1="593.80" y1="585.90" x2="600.8" y2="585.90" stroke="#333" stroke-width="1.5"/>
<line x1="595.80" y1="567.82" x2="600.8" y2="567.82" stroke="#333" stroke-width="1.5"/>
<line x1="595.80" y1="557.24" x2="600.8" y2="557.24" stroke="#333" stroke-width="1.5"/>
<line x1="595.80" y1="549.74" x2="600.8" y2="549.74" stroke="#333" stroke-width="1.5"/>
<line x1="595.80" y1="543.92" x2="600.8" y2="543.92" stroke="#333" stroke-width="1.5"/>
<line x1="595.80" y1="539.16" x2="600.8" y2="539.16" stroke="#333" stroke-width="1.5"/>
<line x1="595.80" y1="535.14" x2="600.8" y2="535.14" stroke="#333" stroke-width="1.5"/>
<line x1="595.80" y1="531.65" x2="600.8" y2="531.65" stroke="#333" stroke-width="1.5"/>
<line x1="595.80" y1="528.58" x2="600.8" y2="528.58" stroke="#333" stroke-width="1.5"/>
<line x1="593.80" y1="525.83" x2="600.8" y2="525.83" stroke="#333" stroke-width="1.5"/>
<line x1="595.80" y1="507.75" x2="600.8" y2="507.75" stroke="#333" stroke-width="1.5"/>
<line x1="595.80" y1="497.17" x2="600.8" y2="497.17" stroke="#333" stroke-width="1.5"/>
<line x1="595.80" y1="489.67" x2="600.8" y2="489.67" stroke="#333" stroke-width="1.5"/>
<line x1="595.80" y1="483.85" x2="600.8" y2="483.85" stroke="#333" stroke-width="1.5"/>
<line x1="595.80" y1="479.09" x2="600.8" y2="479.09" stroke="#333" stroke-width="1.5"/>
<line x1="595.80" y1="475.07" x2="600.8" y2="475.07" stroke="#333" stroke-width="1.5"/>
<line x1="595.80" y1="471.59" x2="600.8" y2="471.59" stroke="#333" stroke-width="1.5"/>
<line x1="595.80" y1="468.52" x2="600.8" y2="468.52" stroke="#333" stroke-width="1.5"/>
<line x1="593.80" y1="465.77" x2="600.8" y2="465.77" stroke="#333" stroke-width="1.5"/>
<line x1="595.80" y1="447.68" x2="600.8" y2="447.68" stroke="#333" stroke-width="1.5"/>
<line x1="595.80" y1="437.11" x2="600.8" y2="437.11" stroke="#333" stroke-width="1.5"/>
<line x1="595.80" y1="429.60" x2="600.8" y2="429.60" stroke="#333" stroke-width="1.5"/>
<line x1="595.80" y1="423.78" x2="600.8" y2="423.78" stroke="#333" stroke-width="1.5"/>
<line x1="595.80" y1="419.03" x2="600.8" y2="419.03" stroke="#333" stroke-width="1.5"/>
<line x1="595.80" y1="415.00" x2="600.8" y2="415.00" stroke="#333" stroke-width="1.5"/>
<line x1="595.80" y1="411.52" x2="600.8" y2="411.52" stroke="#333" stroke-width="1.5"/>
<line x1="595.80" y1="408.45" x2="600.8" y2="408.45" stroke="#333" stroke-width="1.5"/>
<line x1="593.80" y1="405.7" x2="600.8" y2="405.7" stroke="#333" stroke-width="1.5"/>
<line x1="600.80" y1="766.1" x2="600.80" y2="773.10" stroke="#333" stroke-width="1.5"/>
<line x1="618.88" y1="766.1" x2="618.88" y2="771.10" stroke="#333" stroke-width="1.5"/>
<line x1="629.46" y1="766.1" x2="629.46" y2="771.10" stroke="#333" stroke-width="1.5"/>
<line x1="636.96" y1="766.1" x2="636.96" y2="771.10" stroke="#333" stroke-width="1.5"/>
<line x1="642.78" y1="766.1" x2="642.78" y2="771.10" stroke="#333" stroke-width="1.5"/>
<line x1="647.54" y1="766.1" x2="647.54" y2="771.10" stroke="#333" stroke-width="1.5"/>
<line x1="651.56" y1="766.1" x2="651.56" y2="771.10" stroke="#333" stroke-width="1.5"/>
<line x1="655.05" y1="766.1" x2="655.05" y2="771.10" stroke="#333" stroke-width="1.5"/>
<line x1="658.12" y1="766.1" x2="658.12" y2="771.10" stroke="#333" stroke-width="1.5"/>
<line x1="660.87" y1="766.1" x2="660.87" y2="773.10" stroke="#333" stroke-width="1.5"/>
<line x1="678.95" y1="766.1" x2="678.95" y2="771.10" stroke="#333" stroke-width="1.5"/>
<line x1="689.53" y1="766.1" x2="689.53" y2="771.10" stroke="#333" stroke-width="1.5"/>
<line x1="697.03" y1="766.1" x2="697.03" y2="771.10" stroke="#333" stroke-width="1.5"/>
<line x1="702.85" y1="766.1" x2="702.85" y2="771.10" stroke="#333" stroke-width="1.5"/>
<line x1="707.61" y1="766.1" x2="707.61" y2="771.10" stroke="#333" stroke-width="1.5"/>
<line x1="711.63" y1="766.1" x2="711.63" y2="771.10" stroke="#333" stroke-width="1.5"/>
<line x1="715.11" y1="766.1" x2="715.11" y2="771.10" stroke="#333" stroke-width="1.5"/>
<line x1="718.18" y1="766.1" x2="718.18" y2="771.10" stroke="#333" stroke-width="1.5"/>
<line x1="720.93" y1="766.1" x2="720.93" y2="773.10" stroke="#333" stroke-width="1.5"/>
<line x1="739.02" y1="766.1" x2="739.02" y2="771.10" stroke="#333" stroke-width="1.5"/>
<line x1="749.59" y1="766.1" x2="749.59" y2="771.10" stroke="#333" stroke-width="1.5"/>
<line x1="757.10" y1="766.1" x2="757.10" y2="771.10" stroke="#333" stroke-width="1.5"/>
<line x1="762.92" y1="766.1" x2="762.92" y2="771.10" stroke="#333" stroke-width="1.5"/>
<line x1="767.67" y1="766.1" x2="767.67" y2="771.10" stroke="#333" stroke-width="1.5"/>
<line x1="771.70" y1="766.1" x2="771.70" y2="771.10" stroke="#333" stroke-width="1.5"/>
<line x1="775.18" y1="766.1" x2="775.18" y2="771.10" stroke="#333" stroke-width="1.5"/>
<line x1="778.25" y1="766.1" x2="778.25" y2="771.10" stroke="#333" stroke-width="1.5"/>
<line x1="781.00" y1="766.1" x2="781.00" y2="773.10" stroke="#333" stroke-width="1.5"/>
<line x1="799.08" y1="766.1" x2="799.08" y2="771.10" stroke="#333" stroke-width="1.5"/>
<line x1="809.66" y1="766.1" x2="809.66" y2="771.10" stroke="#333" stroke-width="1.5"/>
<line x1="817.16" y1="766.1" x2="817.16" y2="771.10" stroke="#333" stroke-width="1.5"/>
<line x1="822.98" y1="766.1" x2="822.98" y2="771.10" stroke="#333" stroke-width="1.5"/>
<line x1="827.74" y1="766.1" x2="827.74" y2="771.10" stroke="#333" stroke-width="1.5"/>
<line x1="831.76" y1="766.1" x2="831.76" y2="771.10" stroke="#333" stroke-width="1.5"/>
<line x1="835.25" y1="766.1" x2="835.25" y2="771.10" stroke="#333" stroke-width="1.5"/>
<line x1="838.32" y1="766.1" x2="838.32" y2="771.10" stroke="#333" stroke-width="1.5"/>
<line x1="841.07" y1="766.1" x2="841.07" y2="773.10" stroke="#333" stroke-width="1.5"/>
<line x1="859.15" y1="766.1" x2="859.15" y2="771.10" stroke="#333" stroke-width="1.5"/>
<line x1="869.73" y1="766.1" x2="869.73" y2="771.10" stroke="#333" stroke-width="1.5"/>
<line x1="877.23" y1="766.1" x2="877.23" y2="771.10" stroke="#333" stroke-width="1.5"/>
<line x1="883.05" y1="766.1" x2="883.05" y2="771.10" stroke="#333" stroke-width="1.5"/>
<line x1="887.81" y1="766.1" x2="887.81" y2="771.10" stroke="#333" stroke-width="1.5"/>
<line x1="891.83" y1="766.1" x2="891.83" y2="771.10" stroke="#333" stroke-width="1.5"/>
<line x1="895.31" y1="766.1" x2="895.31" y2="771.10" stroke="#333" stroke-width="1.5"/>
<line x1="898.38" y1="766.1" x2="898.38" y2="771.10" stroke="#333" stroke-width="1.5"/>
<line x1="901.13" y1="766.1" x2="901.13" y2="773.10" stroke="#333" stroke-width="1.5"/>
<line x1="919.22" y1="766.1" x2="919.22" y2="771.10" stroke="#333" stroke-width="1.5"/>
<line x1="929.79" y1="766.1" x2="929.79" y2="771.10" stroke="#333" stroke-width="1.5"/>
<line x1="937.30" y1="766.1" x2="937.30" y2="771.10" stroke="#333" stroke-width="1.5"/>
<line x1="943.12" y1="766.1" x2="943.12" y2="771.10" stroke="#333" stroke-width="1.5"/>
<line x1="947.87" y1="766.1" x2="947.87" y2="771.10" stroke="#333" stroke-width="1.5"/>
<line x1="951.90" y1="766.1" x2="951.90" y2="771.10" stroke="#333" stroke-width="1.5"/>
<line x1="955.38" y1="766.1" x2="955.38" y2="771.10" stroke="#333" stroke-width="1.5"/>
<line x1="958.45" y1="766.1" x2="958.45" y2="771.10" stroke="#333" stroke-width="1.5"/>
<line x1="961.2" y1="766.1" x2="961.2" y2="773.1" stroke="#333" stroke-width="1.5"/>
<text x="561.3" y="771.90" font-size="16.5" fill="#111">10<tspan font-size="9.8" dx="1.0" dy="-7.8">-3</tspan></text>
<text x="561.3" y="711.83" font-size="16.5" fill="#111">10<tspan font-size="9.8" dx="1.0" dy="-7.8">-2</tspan></text>
<text x="561.3" y="651.77" font-size="16.5" fill="#111">10<tspan font-size="9.8" dx="1.0" dy="-7.8">-1</tspan></text>
<text x="561.3" y="591.70" font-size="16.5" fill="#111">10<tspan font-size="9.8" dx="1.0" dy="-7.8">0</tspan></text>
<text x="561.3" y="531.63" font-size="16.5" fill="#111">10<tspan font-size="9.8" dx="1.0" dy="-7.8">1</tspan></text>
<text x="561.3" y="471.57" font-size="16.5" fill="#111">10<tspan font-size="9.8" dx="1.0" dy="-7.8">2</tspan></text>
<text x="561.3" y="411.50" font-size="16.5" fill="#111">10<tspan font-size="9.8" dx="1.0" dy="-7.8">3</tspan></text>
<text x="604.20" y="794.2" font-size="16.5" text-anchor="middle" fill="#111">10<tspan font-size="9.8" dx="1.0" dy="-7.8">-4</tspan></text>
<text x="664.27" y="794.2" font-size="16.5" text-anchor="middle" fill="#111">10<tspan font-size="9.8" dx="1.0" dy="-7.8">-3</tspan></text>
<text x="724.33" y="794.2" font-size="16.5" text-anchor="middle" fill="#111">10<tspan font-size="9.8" dx="1.0" dy="-7.8">-2</tspan></text>
<text x="784.40" y="794.2" font-size="16.5" text-anchor="middle" fill="#111">10<tspan font-size="9.8" dx="1.0" dy="-7.8">-1</tspan></text>
<text x="844.47" y="794.2" font-size="16.5" text-anchor="middle" fill="#111">10<tspan font-size="9.8" dx="1.0" dy="-7.8">0</tspan></text>
<text x="904.53" y="794.2" font-size="16.5" text-anchor="middle" fill="#111">10<tspan font-size="9.8" dx="1.0" dy="-7.8">1</tspan></text>
<text x="964.60" y="794.2" font-size="16.5" text-anchor="middle" fill="#111">10<tspan font-size="9.8" dx="1.0" dy="-7.8">2</tspan></text>
<text x="729" y="817" font-size="17.5" fill="#111">I<tspan font-size="11" dy="3">DS</tspan><tspan dy="-3">/W (μA/μm)</tspan></text>
<text transform="translate(548.5,585.3) rotate(-90)" x="0" y="0" font-size="17.9" text-anchor="middle" fill="#111">Gain/L (μm<tspan font-size="10" dy="-7">-1</tspan><tspan dy="7">)</tspan></text>
<rect x="976" y="436.7" width="287" height="304.1" fill="none" stroke="#333" stroke-width="1.6"/>
<polygon points="997.50,444.90 1012.80,444.90 1005.15,459.90" fill="#4c72b0"/>
<text x="1020.10" y="457.40" font-size="17.8" text-anchor="start" font-weight="normal" fill="#111" >Ref. 6a</text>
<polygon points="997.50,479.15 1012.80,479.15 1005.15,494.15" fill="#dd8452"/>
<text x="1020.10" y="491.65" font-size="17.8" text-anchor="start" font-weight="normal" fill="#111" >Ref. 6b</text>
<polygon points="997.50,513.40 1012.80,513.40 1005.15,528.40" fill="#55a868"/>
<text x="1020.10" y="525.90" font-size="17.8" text-anchor="start" font-weight="normal" fill="#111" >Ref. 6c</text>
<polygon points="997.50,547.65 1012.80,547.65 1005.15,562.65" fill="#c44e52"/>
<text x="1020.10" y="560.15" font-size="17.8" text-anchor="start" font-weight="normal" fill="#111" >Ref. 22a</text>
<polygon points="997.50,581.90 1012.80,581.90 1005.15,596.90" fill="#8172b3"/>
<text x="1020.10" y="594.40" font-size="17.8" text-anchor="start" font-weight="normal" fill="#111" >Ref. 22b</text>
<polygon points="997.50,616.15 1012.80,616.15 1005.15,631.15" fill="#937860"/>
<text x="1020.10" y="628.65" font-size="17.8" text-anchor="start" font-weight="normal" fill="#111" >Ref. 22c</text>
<polygon points="997.50,650.40 1012.80,650.40 1005.15,665.40" fill="#da8bc3"/>
<text x="1020.10" y="662.90" font-size="17.8" text-anchor="start" font-weight="normal" fill="#111" >Ref. 22d</text>
<polygon points="997.50,684.65 1012.80,684.65 1005.15,699.65" fill="#8c8c8c"/>
<text x="1020.10" y="697.15" font-size="17.8" text-anchor="start" font-weight="normal" fill="#111" >Ref. 22e</text>
<polygon points="997.50,718.90 1012.80,718.90 1005.15,733.90" fill="#ccb974"/>
<text x="1020.10" y="731.40" font-size="17.8" text-anchor="start" font-weight="normal" fill="#111" >Ref. 22f</text>
<polygon points="1144.00,444.90 1159.10,444.90 1151.55,459.90" fill="#64b5cd"/>
<text x="1166.80" y="457.40" font-size="17.8" text-anchor="start" font-weight="normal" fill="#111" >Ref. 22g</text>
<rect x="1144" y="479.15" width="15.10" height="15.00" fill="#4c72b0"/>
<text x="1166.80" y="491.65" font-size="17.8" text-anchor="start" font-weight="normal" fill="#111" >Ref. 22h</text>
<rect x="1144" y="513.4" width="15.10" height="15.00" fill="#dd8452"/>
<text x="1166.80" y="525.90" font-size="17.8" text-anchor="start" font-weight="normal" fill="#111" >Ref. 22i</text>
<rect x="1144" y="547.65" width="15.10" height="15.00" fill="#55a868"/>
<text x="1166.80" y="560.15" font-size="17.8" text-anchor="start" font-weight="normal" fill="#111" >Ref. 22j</text>
<rect x="1144" y="581.9" width="15.10" height="15.00" fill="#c44e52"/>
<text x="1166.80" y="594.40" font-size="17.8" text-anchor="start" font-weight="normal" fill="#111" >Ref. 22k</text>
<rect x="1144" y="616.15" width="15.10" height="15.00" fill="#8172b3"/>
<text x="1166.80" y="628.65" font-size="17.8" text-anchor="start" font-weight="normal" fill="#111" >Ref. 22l</text>
<rect x="1144" y="650.4" width="15.10" height="15.00" fill="#937860"/>
<text x="1166.80" y="662.90" font-size="17.8" text-anchor="start" font-weight="normal" fill="#111" >Ref. 22m</text>
<rect x="1144" y="684.65" width="15.10" height="15.00" fill="#da8bc3"/>
<text x="1166.80" y="697.15" font-size="17.8" text-anchor="start" font-weight="normal" fill="#111" >Ref. 22n</text>
<polygon points="1151.60,716.60 1154.64,723.42 1162.06,724.20 1156.52,729.20 1158.07,736.50 1151.60,732.77 1145.13,736.50 1146.68,729.20 1141.14,724.20 1148.56,723.42" fill="#c44e52"/>
<text x="1166.40" y="731.40" font-size="17.8" text-anchor="start" font-weight="normal" fill="#111" >This work</text>
</svg></body></html>
